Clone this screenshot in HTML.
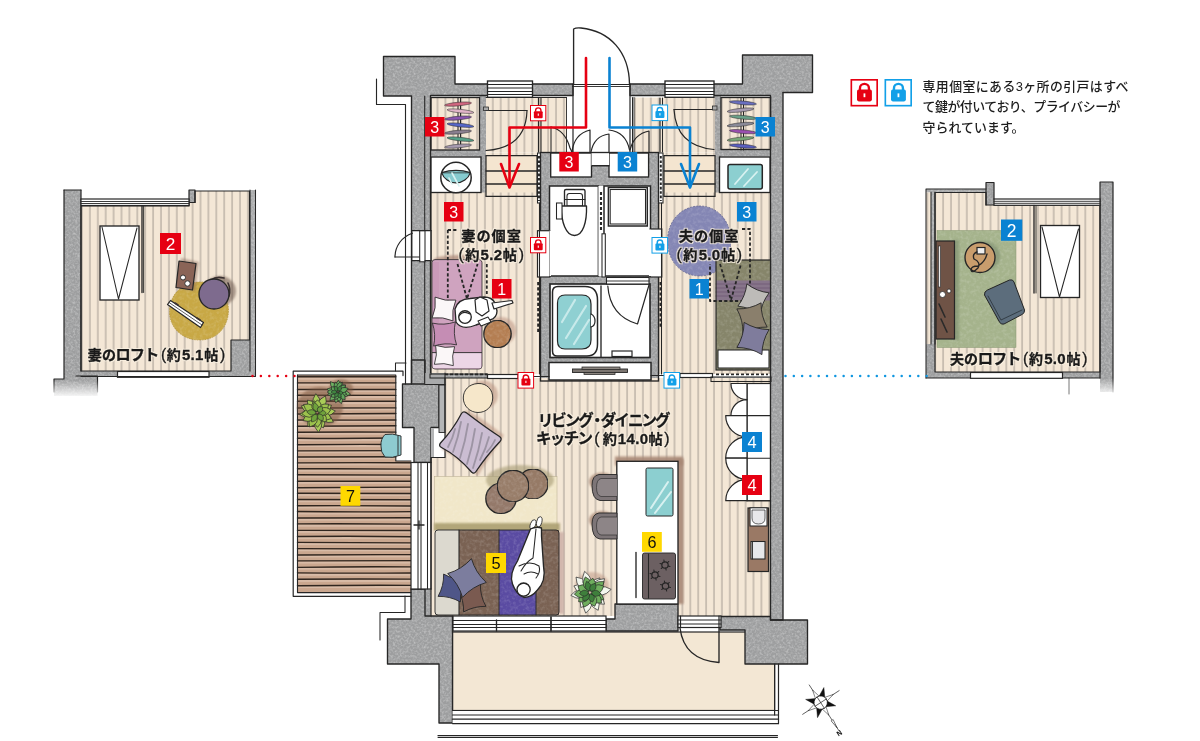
<!DOCTYPE html>
<html lang="ja">
<head>
<meta charset="utf-8">
<title>間取り図</title>
<style>
html,body{margin:0;padding:0;background:#fff;}
body{width:1200px;height:741px;overflow:hidden;font-family:"Liberation Sans","Noto Sans CJK JP",sans-serif;}
svg{display:block;opacity:0.999}
svg text{font-family:"Liberation Sans","Noto Sans CJK JP",sans-serif;}
</style>
</head>
<body>
<svg width="1200" height="741" viewBox="0 0 1200 741">
<defs>
<pattern id="flv" x="0" y="0" width="7.9" height="40" patternUnits="userSpaceOnUse">
<rect width="7.9" height="40" fill="#f4e7d6"/>
<line x1="3" y1="0" x2="3" y2="40" stroke="#766f69" stroke-width="0.9" opacity="0.72"/>
</pattern>
<filter id="mot" x="0" y="0" width="100%" height="100%" color-interpolation-filters="sRGB">
<feTurbulence type="fractalNoise" baseFrequency="0.45" numOctaves="2" seed="7" result="n"/>
<feColorMatrix in="n" type="matrix" values="0 0 0 0 1  0 0 0 0 1  0 0 0 0 1  0.7 0 0 0 -0.27" result="w"/>
<feComposite in="w" in2="SourceGraphic" operator="in" result="wi"/>
<feMerge><feMergeNode in="SourceGraphic"/><feMergeNode in="wi"/></feMerge>
</filter>
<filter id="mot2" x="0" y="0" width="100%" height="100%" color-interpolation-filters="sRGB">
<feTurbulence type="fractalNoise" baseFrequency="0.3" numOctaves="2" seed="5" result="n"/>
<feColorMatrix in="n" type="matrix" values="0 0 0 0 1  0 0 0 0 1  0 0 0 0 1  0.36 0 0 0 -0.15" result="w"/>
<feComposite in="w" in2="SourceGraphic" operator="in" result="wi"/>
<feMerge><feMergeNode in="SourceGraphic"/><feMergeNode in="wi"/></feMerge>
</filter>
<filter id="halo" x="-5%" y="-30%" width="110%" height="160%" color-interpolation-filters="sRGB">
<feMorphology in="SourceAlpha" operator="dilate" radius="1.1" result="d"/>
<feGaussianBlur in="d" stdDeviation="0.45" result="b"/>
<feFlood flood-color="#f8efe0" flood-opacity="0.85"/>
<feComposite in2="b" operator="in" result="h"/>
<feMerge><feMergeNode in="h"/><feMergeNode in="SourceGraphic"/></feMerge>
</filter>
<filter id="soft" x="-20%" y="-20%" width="140%" height="140%"><feGaussianBlur stdDeviation="1.2"/></filter>
</defs>
<rect width="1200" height="741" fill="#ffffff"/>
<rect x="452.5" y="632" width="322.1" height="78.5" fill="#f3e7d4"/>
<rect x="452.5" y="632" width="322.1" height="78.5" fill="none" stroke="#262626" stroke-width="1.2"/>
<g filter="url(#mot)">
<polygon points="383.5,56.5 455,56.5 455,84 573,84 573,95.5 430.5,95.5 430.5,384 411.5,384 411.5,96 383.5,96" fill="#9d9e9f"/>
<polygon points="742.5,55 812.5,55 812.5,92.5 783,92.5 783,620 770.5,620 770.5,95.5 630,95.5 630,84 742.5,84" fill="#9d9e9f"/>
<rect x="430" y="149.5" width="56" height="7" fill="#9d9e9f"/>
<rect x="479.5" y="95" width="6.5" height="105" fill="#9d9e9f"/>
<rect x="715" y="149.5" width="56" height="7" fill="#9d9e9f"/>
<rect x="715" y="95" width="6" height="103" fill="#9d9e9f"/>
<rect x="540.5" y="152.5" width="118" height="228.5" fill="#9d9e9f"/>
<polygon points="411.5,360 425,360 425,384 439,384 439,427.5 431,427.5 431,462.5 414,462.5 414,427.5 402.5,427.5 402.5,384 411.5,384" fill="#9d9e9f"/>
<polygon points="411,589 425,589 425,616 452.5,616 452.5,723 439,723 439,664 387.5,664 387.5,619 411,619" fill="#9d9e9f"/>
<rect x="424.5" y="589" width="6.5" height="27.5" fill="#9d9e9f"/>
<polygon points="720,616.5 783,616.5 783,620 807.5,620 807.5,664 745,664 745,630 720,630" fill="#9d9e9f"/>
<rect x="430" y="374" width="57.5" height="4" fill="#9d9e9f"/>
<rect x="711" y="377" width="60" height="4.5" fill="#9d9e9f"/>
</g>
<rect x="431" y="97.5" width="48.5" height="52.5" fill="url(#flv)"/>
<rect x="486" y="97.5" width="80.5" height="55" fill="url(#flv)"/>
<rect x="486" y="152.5" width="51.5" height="47.5" fill="url(#flv)"/>
<rect x="486" y="156" width="51" height="40" fill="#f4e5d0"/>
<rect x="431" y="192.5" width="106.5" height="181.5" fill="url(#flv)"/>
<rect x="572.5" y="84.5" width="57.5" height="68.5" fill="#ffffff"/>
<rect x="634" y="97.5" width="81" height="55" fill="url(#flv)"/>
<rect x="661" y="152.5" width="54" height="47.5" fill="url(#flv)"/>
<rect x="664" y="156" width="51" height="40" fill="#f4e5d0"/>
<rect x="721" y="97.5" width="49.5" height="52" fill="url(#flv)"/>
<rect x="661" y="192.5" width="110" height="181.5" fill="url(#flv)"/>
<polygon points="445,378 770.5,378 770.5,616 431,616 431,457.5 445,457.5" fill="url(#flv)"/>
<rect x="537.5" y="153" width="3.5" height="50" fill="#fff"/>
<rect x="658" y="153" width="5" height="50" fill="#fff"/>
<rect x="537.5" y="203" width="3.5" height="171" fill="url(#flv)"/>
<rect x="658" y="203" width="6" height="171" fill="url(#flv)"/>
<polygon points="297.5,375 395.8,375 395.8,461 411,461 411,592.5 297.5,592.5" fill="#caa78f"/>
<rect x="297.5" y="377.7" width="98.3" height="1.9" fill="#d8bba7"/>
<path d="M297.5,376.82 Q345.9,376.90 395.8,376.72" fill="none" stroke="#30261f" stroke-width="1.4" stroke-linecap="round" stroke-linejoin="round" stroke-linecap="butt"/>
<rect x="297.5" y="383.83" width="98.3" height="1.9" fill="#d8bba7"/>
<path d="M297.5,382.89 Q345.9,383.03 395.8,382.83" fill="none" stroke="#30261f" stroke-width="1.4" stroke-linecap="round" stroke-linejoin="round" stroke-linecap="butt"/>
<rect x="297.5" y="389.96" width="98.3" height="1.9" fill="#d8bba7"/>
<path d="M297.5,389.55 Q345.9,389.53 395.8,389.47" fill="none" stroke="#30261f" stroke-width="1.4" stroke-linecap="round" stroke-linejoin="round" stroke-linecap="butt"/>
<rect x="297.5" y="396.09" width="98.3" height="1.9" fill="#d8bba7"/>
<path d="M297.5,395.20 Q345.9,395.17 395.8,395.42" fill="none" stroke="#30261f" stroke-width="1.4" stroke-linecap="round" stroke-linejoin="round" stroke-linecap="butt"/>
<rect x="297.5" y="402.22" width="98.3" height="1.9" fill="#d8bba7"/>
<path d="M297.5,401.29 Q345.9,401.23 395.8,401.24" fill="none" stroke="#30261f" stroke-width="1.4" stroke-linecap="round" stroke-linejoin="round" stroke-linecap="butt"/>
<rect x="297.5" y="408.35" width="98.3" height="1.9" fill="#d8bba7"/>
<path d="M297.5,407.95 Q345.9,407.96 395.8,407.88" fill="none" stroke="#30261f" stroke-width="1.4" stroke-linecap="round" stroke-linejoin="round" stroke-linecap="butt"/>
<rect x="297.5" y="414.48" width="98.3" height="1.9" fill="#d8bba7"/>
<path d="M297.5,413.99 Q345.9,413.59 395.8,413.57" fill="none" stroke="#30261f" stroke-width="1.4" stroke-linecap="round" stroke-linejoin="round" stroke-linecap="butt"/>
<rect x="297.5" y="420.61" width="98.3" height="1.9" fill="#d8bba7"/>
<path d="M297.5,420.00 Q345.9,420.26 395.8,420.07" fill="none" stroke="#30261f" stroke-width="1.4" stroke-linecap="round" stroke-linejoin="round" stroke-linecap="butt"/>
<rect x="297.5" y="426.74" width="98.3" height="1.9" fill="#d8bba7"/>
<path d="M297.5,426.31 Q345.9,426.15 395.8,425.75" fill="none" stroke="#30261f" stroke-width="1.4" stroke-linecap="round" stroke-linejoin="round" stroke-linecap="butt"/>
<rect x="297.5" y="432.87" width="98.3" height="1.9" fill="#d8bba7"/>
<path d="M297.5,432.29 Q345.9,431.85 395.8,432.17" fill="none" stroke="#30261f" stroke-width="1.4" stroke-linecap="round" stroke-linejoin="round" stroke-linecap="butt"/>
<rect x="297.5" y="439" width="98.3" height="1.9" fill="#d8bba7"/>
<path d="M297.5,438.28 Q345.9,438.73 395.8,438.01" fill="none" stroke="#30261f" stroke-width="1.4" stroke-linecap="round" stroke-linejoin="round" stroke-linecap="butt"/>
<rect x="297.5" y="445.13" width="98.3" height="1.9" fill="#d8bba7"/>
<path d="M297.5,444.69 Q345.9,444.23 395.8,444.46" fill="none" stroke="#30261f" stroke-width="1.4" stroke-linecap="round" stroke-linejoin="round" stroke-linecap="butt"/>
<rect x="297.5" y="451.26" width="98.3" height="1.9" fill="#d8bba7"/>
<path d="M297.5,450.85 Q345.9,450.94 395.8,450.61" fill="none" stroke="#30261f" stroke-width="1.4" stroke-linecap="round" stroke-linejoin="round" stroke-linecap="butt"/>
<rect x="297.5" y="457.39" width="98.3" height="1.9" fill="#d8bba7"/>
<path d="M297.5,456.93 Q345.9,456.60 395.8,456.70" fill="none" stroke="#30261f" stroke-width="1.4" stroke-linecap="round" stroke-linejoin="round" stroke-linecap="butt"/>
<rect x="297.5" y="463.52" width="113.5" height="1.9" fill="#d8bba7"/>
<path d="M297.5,462.89 Q353.5,462.48 411,462.77" fill="none" stroke="#30261f" stroke-width="1.4" stroke-linecap="round" stroke-linejoin="round" stroke-linecap="butt"/>
<rect x="297.5" y="469.65" width="113.5" height="1.9" fill="#d8bba7"/>
<path d="M297.5,468.81 Q353.5,468.49 411,469.17" fill="none" stroke="#30261f" stroke-width="1.4" stroke-linecap="round" stroke-linejoin="round" stroke-linecap="butt"/>
<rect x="297.5" y="475.78" width="113.5" height="1.9" fill="#d8bba7"/>
<path d="M297.5,474.76 Q353.5,474.86 411,475.17" fill="none" stroke="#30261f" stroke-width="1.4" stroke-linecap="round" stroke-linejoin="round" stroke-linecap="butt"/>
<rect x="297.5" y="481.91" width="113.5" height="1.9" fill="#d8bba7"/>
<path d="M297.5,481.23 Q353.5,481.05 411,481.19" fill="none" stroke="#30261f" stroke-width="1.4" stroke-linecap="round" stroke-linejoin="round" stroke-linecap="butt"/>
<rect x="297.5" y="488.04" width="113.5" height="1.9" fill="#d8bba7"/>
<path d="M297.5,487.69 Q353.5,487.25 411,487.13" fill="none" stroke="#30261f" stroke-width="1.4" stroke-linecap="round" stroke-linejoin="round" stroke-linecap="butt"/>
<rect x="297.5" y="494.17" width="113.5" height="1.9" fill="#d8bba7"/>
<path d="M297.5,493.26 Q353.5,493.25 411,493.56" fill="none" stroke="#30261f" stroke-width="1.4" stroke-linecap="round" stroke-linejoin="round" stroke-linecap="butt"/>
<rect x="297.5" y="500.3" width="113.5" height="1.9" fill="#d8bba7"/>
<path d="M297.5,499.50 Q353.5,499.42 411,499.77" fill="none" stroke="#30261f" stroke-width="1.4" stroke-linecap="round" stroke-linejoin="round" stroke-linecap="butt"/>
<rect x="297.5" y="506.43" width="113.5" height="1.9" fill="#d8bba7"/>
<path d="M297.5,505.77 Q353.5,505.33 411,506.01" fill="none" stroke="#30261f" stroke-width="1.4" stroke-linecap="round" stroke-linejoin="round" stroke-linecap="butt"/>
<rect x="297.5" y="512.56" width="113.5" height="1.9" fill="#d8bba7"/>
<path d="M297.5,511.55 Q353.5,512.13 411,511.67" fill="none" stroke="#30261f" stroke-width="1.4" stroke-linecap="round" stroke-linejoin="round" stroke-linecap="butt"/>
<rect x="297.5" y="518.69" width="113.5" height="1.9" fill="#d8bba7"/>
<path d="M297.5,518.07 Q353.5,517.82 411,517.81" fill="none" stroke="#30261f" stroke-width="1.4" stroke-linecap="round" stroke-linejoin="round" stroke-linecap="butt"/>
<rect x="297.5" y="524.82" width="113.5" height="1.9" fill="#d8bba7"/>
<path d="M297.5,523.89 Q353.5,523.66 411,524.09" fill="none" stroke="#30261f" stroke-width="1.4" stroke-linecap="round" stroke-linejoin="round" stroke-linecap="butt"/>
<rect x="297.5" y="530.95" width="113.5" height="1.9" fill="#d8bba7"/>
<path d="M297.5,530.39 Q353.5,530.70 411,530.53" fill="none" stroke="#30261f" stroke-width="1.4" stroke-linecap="round" stroke-linejoin="round" stroke-linecap="butt"/>
<rect x="297.5" y="537.08" width="113.5" height="1.9" fill="#d8bba7"/>
<path d="M297.5,536.54 Q353.5,535.90 411,536.70" fill="none" stroke="#30261f" stroke-width="1.4" stroke-linecap="round" stroke-linejoin="round" stroke-linecap="butt"/>
<rect x="297.5" y="543.21" width="113.5" height="1.9" fill="#d8bba7"/>
<path d="M297.5,542.36 Q353.5,542.79 411,542.84" fill="none" stroke="#30261f" stroke-width="1.4" stroke-linecap="round" stroke-linejoin="round" stroke-linecap="butt"/>
<rect x="297.5" y="549.34" width="113.5" height="1.9" fill="#d8bba7"/>
<path d="M297.5,548.58 Q353.5,548.76 411,548.95" fill="none" stroke="#30261f" stroke-width="1.4" stroke-linecap="round" stroke-linejoin="round" stroke-linecap="butt"/>
<rect x="297.5" y="555.47" width="113.5" height="1.9" fill="#d8bba7"/>
<path d="M297.5,554.99 Q353.5,554.46 411,554.63" fill="none" stroke="#30261f" stroke-width="1.4" stroke-linecap="round" stroke-linejoin="round" stroke-linecap="butt"/>
<rect x="297.5" y="561.6" width="113.5" height="1.9" fill="#d8bba7"/>
<path d="M297.5,560.86 Q353.5,560.78 411,560.65" fill="none" stroke="#30261f" stroke-width="1.4" stroke-linecap="round" stroke-linejoin="round" stroke-linecap="butt"/>
<rect x="297.5" y="567.73" width="113.5" height="1.9" fill="#d8bba7"/>
<path d="M297.5,567.35 Q353.5,566.54 411,566.91" fill="none" stroke="#30261f" stroke-width="1.4" stroke-linecap="round" stroke-linejoin="round" stroke-linecap="butt"/>
<rect x="297.5" y="573.86" width="113.5" height="1.9" fill="#d8bba7"/>
<path d="M297.5,572.84 Q353.5,573.44 411,572.93" fill="none" stroke="#30261f" stroke-width="1.4" stroke-linecap="round" stroke-linejoin="round" stroke-linecap="butt"/>
<rect x="297.5" y="579.99" width="113.5" height="1.9" fill="#d8bba7"/>
<path d="M297.5,579.19 Q353.5,578.89 411,579.14" fill="none" stroke="#30261f" stroke-width="1.4" stroke-linecap="round" stroke-linejoin="round" stroke-linecap="butt"/>
<rect x="297.5" y="586.12" width="113.5" height="1.9" fill="#d8bba7"/>
<path d="M297.5,585.76 Q353.5,585.13 411,585.37" fill="none" stroke="#30261f" stroke-width="1.4" stroke-linecap="round" stroke-linejoin="round" stroke-linecap="butt"/>
<g filter="url(#mot)">
<polygon points="615,604 678,604 678,631 606,631 606,619 615,619" fill="#9d9e9f"/>
</g>
<polygon points="383.5,56.5 455,56.5 455,84 573,84 573,95.5 430.5,95.5 430.5,384 411.5,384 411.5,96 383.5,96" fill="none" stroke="#262626" stroke-width="1.35" stroke-linejoin="round"/>
<polygon points="742.5,55 812.5,55 812.5,92.5 783,92.5 783,620 770.5,620 770.5,95.5 630,95.5 630,84 742.5,84" fill="none" stroke="#262626" stroke-width="1.35" stroke-linejoin="round"/>
<polygon points="411.5,360 425,360 425,384 439,384 439,427.5 431,427.5 431,462.5 414,462.5 414,427.5 402.5,427.5 402.5,384 411.5,384" fill="none" stroke="#262626" stroke-width="1.35" stroke-linejoin="round"/>
<polygon points="411,589 425,589 425,616 452.5,616 452.5,723 439,723 439,664 387.5,664 387.5,619 411,619" fill="none" stroke="#262626" stroke-width="1.35" stroke-linejoin="round"/>
<polygon points="615,604 678,604 678,631 606,631 606,619 615,619" fill="none" stroke="#262626" stroke-width="1.35" stroke-linejoin="round"/>
<polygon points="720,616.5 770.5,616.5 770.5,620 807.5,620 807.5,664 745,664 745,630 720,630" fill="none" stroke="#262626" stroke-width="1.35" stroke-linejoin="round"/>
<rect x="439" y="385" width="6" height="47.5" fill="#b4b5b6" stroke="#262626" stroke-width="0.9"/>
<rect x="424.5" y="373" width="20.5" height="12" fill="#a9aaab"/>
<line x1="445" y1="373" x2="445" y2="385" stroke="#262626" stroke-width="1.05" stroke-linecap="round" />
<line x1="424.7" y1="384.5" x2="445" y2="384.5" stroke="#262626" stroke-width="1.05" stroke-linecap="round" />
<rect x="431" y="428" width="3" height="29.5" fill="#b4b5b6"/>
<path d="M376.5,79 V104.5 H405.5 V384" fill="none" stroke="#262626" stroke-width="1.125" stroke-linecap="round" stroke-linejoin="round" />
<line x1="424.7" y1="96" x2="424.7" y2="230" stroke="#262626" stroke-width="1.05" stroke-linecap="round" />
<line x1="424.7" y1="257.5" x2="424.7" y2="384" stroke="#262626" stroke-width="1.05" stroke-linecap="round" />
<path d="M405,596 V612.5 H380 V640" fill="none" stroke="#262626" stroke-width="1.05" stroke-linecap="round" stroke-linejoin="round" />
<path d="M812.5,92.5 H783" fill="none" stroke="#262626" stroke-width="1.05" stroke-linecap="round" stroke-linejoin="round" />
<rect x="550.7" y="153" width="40.8" height="24" fill="#fff" stroke="#262626" stroke-width="1.35"/>
<rect x="609" y="153" width="39.6" height="24" fill="#fff" stroke="#262626" stroke-width="1.35"/>
<rect x="591.5" y="153" width="17.5" height="12.7" fill="#fff"/>
<line x1="592" y1="165.7" x2="609" y2="165.7" stroke="#262626" stroke-width="1.35" stroke-linecap="round" />
<rect x="549.5" y="186" width="48.9" height="90" fill="#fff" stroke="#262626" stroke-width="1.5"/>
<rect x="598.4" y="186" width="5.6" height="90" fill="#fff"/>
<rect x="604" y="186" width="46.5" height="90" fill="#fff" stroke="#262626" stroke-width="1.5"/>
<rect x="550" y="284" width="100" height="73.5" fill="#fff" stroke="#262626" stroke-width="1.65"/>
<rect x="549" y="362.5" width="102" height="17.5" fill="#fff" stroke="#262626" stroke-width="1.5"/>
<rect x="540.5" y="152.5" width="118" height="228.5" fill="none" stroke="#262626" stroke-width="1.35"/>
<rect x="537.5" y="230.7" width="12.3" height="46.3" fill="#fff" stroke="#262626" stroke-width="1.2"/>
<rect x="650.2" y="229" width="11.6" height="48" fill="#fff" stroke="#262626" stroke-width="1.2"/>
<rect x="549.5" y="230.7" width="1.5" height="45.3" fill="#fff"/>
<rect x="649" y="229.5" width="2" height="46.5" fill="#fff"/>
<rect x="606.5" y="277.5" width="42.5" height="6.5" fill="#fff" stroke="#262626" stroke-width="1.05"/>
<line x1="606.5" y1="281" x2="649" y2="281" stroke="#262626" stroke-width="0.9" stroke-linecap="round" />
<rect x="602" y="233.8" width="3.3" height="43.2" fill="#fff" stroke="#262626" stroke-width="1.05"/>
<line x1="601" y1="192" x2="601" y2="230" stroke="#262626" stroke-width="2.1" stroke-linecap="butt" stroke-dasharray="3 2"/>
<rect x="537.5" y="153" width="3" height="50" fill="none" stroke="#262626" stroke-width="1.05"/>
<rect x="658.5" y="153" width="4.5" height="50" fill="none" stroke="#262626" stroke-width="1.05"/>
<line x1="539" y1="156" x2="539" y2="201" stroke="#262626" stroke-width="1.95" stroke-linecap="butt" stroke-dasharray="2.6 1.8"/>
<line x1="660.8" y1="156" x2="660.8" y2="201" stroke="#262626" stroke-width="1.95" stroke-linecap="butt" stroke-dasharray="2.6 1.8"/>
<line x1="539.5" y1="203" x2="539.5" y2="374" stroke="#262626" stroke-width="1.05" stroke-linecap="round" />
<line x1="661.5" y1="203" x2="661.5" y2="374" stroke="#262626" stroke-width="1.05" stroke-linecap="round" />
<line x1="538.3" y1="282" x2="538.3" y2="332" stroke="#262626" stroke-width="2.25" stroke-linecap="butt" stroke-dasharray="3.2 2"/>
<line x1="660.6" y1="282" x2="660.6" y2="328" stroke="#262626" stroke-width="2.25" stroke-linecap="butt" stroke-dasharray="3.2 2"/>
<rect x="608.4" y="187.5" width="38.9" height="38.5" fill="#fff" stroke="#262626" stroke-width="1.5"/>
<rect x="610.2" y="189.5" width="35.3" height="34.5" fill="none" stroke="#262626" stroke-width="1.05"/>
<path d="M564.5,191 Q564.5,189.5 566,189.5 H583.5 Q585,189.5 585,191 V208 H564.5 Z" fill="#fff" stroke="#262626" stroke-width="1.35" stroke-linecap="round" stroke-linejoin="round" />
<path d="M567,196 Q567,193.5 569.5,193.5 H580 Q582.5,193.5 582.5,196 V206 H567 Z" fill="#fff" stroke="#262626" stroke-width="1.05" stroke-linecap="round" stroke-linejoin="round" />
<path d="M561.5,206 C561,222 566,235.5 574.5,235.5 C583,235.5 587,222 586.5,206 Z" fill="#fff" stroke="#262626" stroke-width="1.35" stroke-linecap="round" stroke-linejoin="round" />
<rect x="556.5" y="203" width="5.5" height="16" fill="#fff" stroke="#262626" stroke-width="1.05"/>
<line x1="565" y1="199.5" x2="585" y2="199.5" stroke="#262626" stroke-width="1.05" stroke-linecap="round" />
<path d="M552.5,292 Q552.5,286.5 558,286.5 H585 Q597.5,286.5 597.5,300 V344 Q597.5,356 587,356 H557 Q552.5,356 552.5,351 Z" fill="#fff" stroke="#262626" stroke-width="1.5" stroke-linecap="round" stroke-linejoin="round" />
<path d="M557.5,303 Q557.5,295 565,295 H582 Q591,295 591,304 V340 Q591,349 582,349 H565 Q557.5,349 557.5,341 Z" fill="#8fd0d2" stroke="#262626" stroke-width="1.2" stroke-linecap="round" stroke-linejoin="round" />
<path d="M562,322 L575,300 M566,338 L586,306 M574,344 L589,320" fill="none" stroke="#d6f0f0" stroke-width="2.2" stroke-linecap="round" stroke-linejoin="round" opacity="0.8" stroke-linecap="round"/>
<path d="M591,314 Q595,316 595,321 Q595,326 591,327" fill="#fff" stroke="#262626" stroke-width="1.2" stroke-linecap="round" stroke-linejoin="round" />
<line x1="601" y1="286" x2="601" y2="357" stroke="#262626" stroke-width="1.35" stroke-linecap="round" />
<path d="M607.8,286 Q610,316 637.5,324 L649,285" fill="none" stroke="#262626" stroke-width="1.2" stroke-linecap="round" stroke-linejoin="round" />
<rect x="612" y="351" width="20" height="5.5" fill="#fff" stroke="#262626" stroke-width="1.2"/>
<rect x="572.5" y="369" width="55" height="3.5" fill="#7b7570" stroke="#262626" stroke-width="0.9"/>
<rect x="582" y="367" width="38" height="2.5" fill="#8c8680" stroke="#262626" stroke-width="0.75"/>
<rect x="584" y="372.5" width="31" height="2" fill="#8c8680" stroke="#262626" stroke-width="0.75"/>
<rect x="487.5" y="81" width="45" height="16.3" fill="#fff" stroke="#262626" stroke-width="1.35"/>
<line x1="487.5" y1="84.5" x2="532.5" y2="84.5" stroke="#262626" stroke-width="1.05" stroke-linecap="round" />
<line x1="487.5" y1="88" x2="532.5" y2="88" stroke="#262626" stroke-width="1.05" stroke-linecap="round" />
<line x1="487.5" y1="91.5" x2="532.5" y2="91.5" stroke="#262626" stroke-width="1.05" stroke-linecap="round" />
<line x1="487.5" y1="94.5" x2="532.5" y2="94.5" stroke="#262626" stroke-width="1.05" stroke-linecap="round" />
<rect x="665" y="81" width="49" height="16.3" fill="#fff" stroke="#262626" stroke-width="1.35"/>
<line x1="665" y1="84.5" x2="714" y2="84.5" stroke="#262626" stroke-width="1.05" stroke-linecap="round" />
<line x1="665" y1="88" x2="714" y2="88" stroke="#262626" stroke-width="1.05" stroke-linecap="round" />
<line x1="665" y1="91.5" x2="714" y2="91.5" stroke="#262626" stroke-width="1.05" stroke-linecap="round" />
<line x1="665" y1="94.5" x2="714" y2="94.5" stroke="#262626" stroke-width="1.05" stroke-linecap="round" />
<line x1="572.5" y1="84.5" x2="630" y2="84.5" stroke="#262626" stroke-width="1.2" stroke-linecap="round" />
<line x1="572.5" y1="86.5" x2="630" y2="86.5" stroke="#262626" stroke-width="0.9" stroke-linecap="round" />
<path d="M573.6,84 V29 Q576,27.5 581,28 C610,31 629,52 629.5,84" fill="none" stroke="#262626" stroke-width="1.35" stroke-linecap="round" stroke-linejoin="round" />
<line x1="573" y1="84" x2="573" y2="152.5" stroke="#262626" stroke-width="1.2" stroke-linecap="round" />
<line x1="630" y1="84" x2="630" y2="152.5" stroke="#262626" stroke-width="1.2" stroke-linecap="round" />
<path d="M551,127 Q565,130 570,148 L572,152" fill="none" stroke="#262626" stroke-width="1.2" stroke-linecap="round" stroke-linejoin="round" />
<path d="M572,152 Q574,134 590,130 L590,152" fill="none" stroke="#262626" stroke-width="1.2" stroke-linecap="round" stroke-linejoin="round" />
<path d="M591,152 Q594,136 609,134 L609,152" fill="none" stroke="#262626" stroke-width="1.2" stroke-linecap="round" stroke-linejoin="round" />
<path d="M609,130 Q626,132 629.5,150" fill="none" stroke="#262626" stroke-width="1.2" stroke-linecap="round" stroke-linejoin="round" />
<path d="M630,150 Q634,134 649,131 L649,152" fill="none" stroke="#262626" stroke-width="1.2" stroke-linecap="round" stroke-linejoin="round" />
<line x1="551" y1="127" x2="551" y2="152" stroke="#262626" stroke-width="1.05" stroke-linecap="round" />
<rect x="431" y="97.5" width="48.5" height="52.5" fill="none" stroke="#262626" stroke-width="1.35"/>
<rect x="431" y="157" width="50" height="35.5" fill="#fff" stroke="#262626" stroke-width="1.35"/>
<circle cx="456" cy="177.5" r="15.2" fill="#fff" stroke="#262626" stroke-width="1.5"/>
<path d="M441.6,172.6 A15.2,15.2 0 0 0 470.4,172.6 Z" fill="#86cbcf" stroke="#262626" stroke-width="1.2" stroke-linecap="round" stroke-linejoin="round" />
<path d="M441.6,172.6 Q456,168 470.4,172.6" fill="#86cbcf" stroke="#262626" stroke-width="1.2" stroke-linecap="round" stroke-linejoin="round" />
<path d="M452,173 L459,186 M449,178 L452,184" fill="none" stroke="#d8f1f0" stroke-width="1.6" stroke-linecap="round" stroke-linejoin="round" stroke-linecap="round"/>
<line x1="486" y1="155.6" x2="537" y2="155.6" stroke="#262626" stroke-width="1.35" stroke-linecap="round" />
<line x1="486" y1="171" x2="537" y2="171" stroke="#262626" stroke-width="1.35" stroke-linecap="round" />
<line x1="486" y1="184" x2="537" y2="184" stroke="#262626" stroke-width="1.35" stroke-linecap="round" />
<line x1="486" y1="196.3" x2="537" y2="196.3" stroke="#262626" stroke-width="1.35" stroke-linecap="round" />
<line x1="486" y1="156" x2="486" y2="196" stroke="#262626" stroke-width="1.2" stroke-linecap="round" />
<line x1="537" y1="156" x2="537" y2="196" stroke="#262626" stroke-width="1.2" stroke-linecap="round" />
<line x1="664" y1="155.6" x2="715" y2="155.6" stroke="#262626" stroke-width="1.35" stroke-linecap="round" />
<line x1="664" y1="171" x2="715" y2="171" stroke="#262626" stroke-width="1.35" stroke-linecap="round" />
<line x1="664" y1="184" x2="715" y2="184" stroke="#262626" stroke-width="1.35" stroke-linecap="round" />
<line x1="664" y1="196.3" x2="715" y2="196.3" stroke="#262626" stroke-width="1.35" stroke-linecap="round" />
<line x1="664" y1="156" x2="664" y2="196" stroke="#262626" stroke-width="1.2" stroke-linecap="round" />
<line x1="715" y1="156" x2="715" y2="196" stroke="#262626" stroke-width="1.2" stroke-linecap="round" />
<line x1="486" y1="110.5" x2="527" y2="110.5" stroke="#262626" stroke-width="1.2" stroke-linecap="round" />
<path d="M527,110.5 Q526,148 486,150.5" fill="none" stroke="#262626" stroke-width="1.2" stroke-linecap="round" stroke-linejoin="round" />
<rect x="483.5" y="107" width="5" height="3.5" fill="#aaa" stroke="#262626" stroke-width="0.75"/>
<line x1="538.5" y1="98" x2="538.5" y2="152" stroke="#262626" stroke-width="1.2" stroke-linecap="round" />
<line x1="541" y1="98" x2="541" y2="152" stroke="#262626" stroke-width="1.05" stroke-linecap="round" />
<line x1="458" y1="98" x2="458" y2="150" stroke="#262626" stroke-width="1.05" stroke-linecap="round" />
<line x1="460.5" y1="98" x2="460.5" y2="150" stroke="#262626" stroke-width="1.05" stroke-linecap="round" />
<ellipse cx="458" cy="104" rx="13.5" ry="1.8" fill="#d0667f" stroke="#262626" stroke-width="0.5" transform="rotate(-5 459 104)"/>
<ellipse cx="460.5" cy="111" rx="13.5" ry="1.8" fill="#e0b3c8" stroke="#262626" stroke-width="0.5" transform="rotate(6 459 111)"/>
<ellipse cx="458" cy="118" rx="13.5" ry="1.8" fill="#8a55b0" stroke="#262626" stroke-width="0.5" transform="rotate(-5 459 118)"/>
<ellipse cx="460.5" cy="125" rx="13.5" ry="1.8" fill="#5566c8" stroke="#262626" stroke-width="0.5" transform="rotate(6 459 125)"/>
<ellipse cx="458" cy="132" rx="13.5" ry="1.8" fill="#8a7f90" stroke="#262626" stroke-width="0.5" transform="rotate(-5 459 132)"/>
<ellipse cx="460.5" cy="139" rx="13.5" ry="1.8" fill="#55a088" stroke="#262626" stroke-width="0.5" transform="rotate(6 459 139)"/>
<ellipse cx="458" cy="146" rx="13.5" ry="1.8" fill="#a79bb0" stroke="#262626" stroke-width="0.5" transform="rotate(-5 459 146)"/>
<line x1="741" y1="98" x2="741" y2="150" stroke="#262626" stroke-width="1.05" stroke-linecap="round" />
<line x1="743.5" y1="98" x2="743.5" y2="150" stroke="#262626" stroke-width="1.05" stroke-linecap="round" />
<ellipse cx="743" cy="102.8" rx="13.5" ry="1.8" fill="#6a6fc0" stroke="#262626" stroke-width="0.5" transform="rotate(5 742 102.8)"/>
<ellipse cx="740.5" cy="110" rx="13.5" ry="1.8" fill="#a79bb0" stroke="#262626" stroke-width="0.5" transform="rotate(-6 742 110)"/>
<ellipse cx="743" cy="117.2" rx="13.5" ry="1.8" fill="#6aa088" stroke="#262626" stroke-width="0.5" transform="rotate(5 742 117.2)"/>
<ellipse cx="740.5" cy="124.4" rx="13.5" ry="1.8" fill="#8a8a98" stroke="#262626" stroke-width="0.5" transform="rotate(-6 742 124.4)"/>
<ellipse cx="743" cy="131.6" rx="13.5" ry="1.8" fill="#9a50b0" stroke="#262626" stroke-width="0.5" transform="rotate(5 742 131.6)"/>
<ellipse cx="740.5" cy="138.8" rx="13.5" ry="1.8" fill="#7aa878" stroke="#262626" stroke-width="0.5" transform="rotate(-6 742 138.8)"/>
<ellipse cx="743" cy="146" rx="13.5" ry="1.8" fill="#5a5fc0" stroke="#262626" stroke-width="0.5" transform="rotate(5 742 146)"/>
<rect x="721" y="97.5" width="49.5" height="52" fill="none" stroke="#262626" stroke-width="1.35"/>
<rect x="719.5" y="157" width="50.5" height="35.5" fill="#fff" stroke="#262626" stroke-width="1.35"/>
<rect x="728" y="164.5" width="34.3" height="24.5" rx="2" fill="#8ccfd0" stroke="#262626" stroke-width="1.5"/>
<path d="M735,184 L748,169 M744,186 L757,172" fill="none" stroke="#d8f1f0" stroke-width="1.8" stroke-linecap="round" stroke-linejoin="round" stroke-linecap="round"/>
<line x1="674" y1="109.5" x2="714" y2="109.5" stroke="#262626" stroke-width="1.2" stroke-linecap="round" />
<path d="M674,109.5 Q676,146 714,149.5" fill="none" stroke="#262626" stroke-width="1.2" stroke-linecap="round" stroke-linejoin="round" />
<rect x="712.5" y="106" width="4.5" height="4" fill="#aaa" stroke="#262626" stroke-width="0.75"/>
<line x1="660" y1="98" x2="660" y2="152" stroke="#262626" stroke-width="1.2" stroke-linecap="round" />
<line x1="662.5" y1="98" x2="662.5" y2="152" stroke="#262626" stroke-width="1.05" stroke-linecap="round" />
<line x1="632.5" y1="97.5" x2="632.5" y2="152" stroke="#262626" stroke-width="1.05" stroke-linecap="round" />
<rect x="412" y="230.6" width="19" height="30" fill="#fff"/>
<path d="M395,257 A25,25 0 0 1 412.4,233.2" fill="none" stroke="#262626" stroke-width="1.2" stroke-linecap="round" stroke-linejoin="round" />
<line x1="395" y1="257" x2="419.7" y2="257" stroke="#262626" stroke-width="1.2" stroke-linecap="round" />
<rect x="419.7" y="230.6" width="5.3" height="31.2" fill="#fff" stroke="#262626" stroke-width="1.05"/>
<line x1="412" y1="230.6" x2="431" y2="230.6" stroke="#262626" stroke-width="1.2" stroke-linecap="round" />
<line x1="412" y1="260.6" x2="419.7" y2="260.6" stroke="#262626" stroke-width="1.2" stroke-linecap="round" />
<line x1="425" y1="260.6" x2="431" y2="260.6" stroke="#262626" stroke-width="1.2" stroke-linecap="round" />
<line x1="412" y1="230.6" x2="412" y2="260.6" stroke="#262626" stroke-width="0.9" stroke-linecap="round" />
<line x1="431" y1="230.6" x2="431" y2="260.6" stroke="#262626" stroke-width="1.05" stroke-linecap="round" />
<line x1="445" y1="374.3" x2="487" y2="374.3" stroke="#262626" stroke-width="1.65" stroke-linecap="butt" stroke-dasharray="3 2"/>
<rect x="487.5" y="374.5" width="30.5" height="4" fill="#fff" stroke="#262626" stroke-width="1.2"/>
<line x1="534" y1="376.5" x2="549" y2="376.5" stroke="#262626" stroke-width="1.2" stroke-linecap="round" />
<rect x="680" y="373.5" width="32.5" height="4" fill="#fff" stroke="#262626" stroke-width="1.2"/>
<line x1="651" y1="375.5" x2="664" y2="375.5" stroke="#262626" stroke-width="1.2" stroke-linecap="round" />
<line x1="716" y1="374.3" x2="768" y2="374.3" stroke="#262626" stroke-width="1.65" stroke-linecap="butt" stroke-dasharray="3 2"/>
<rect x="430" y="374" width="57.5" height="4" fill="none" stroke="#262626" stroke-width="1.05"/>
<rect x="711" y="377" width="60" height="4.5" fill="none" stroke="#262626" stroke-width="1.05"/>
<rect x="411" y="462.5" width="20" height="126.5" fill="#fff" stroke="#262626" stroke-width="1.2"/>
<line x1="418" y1="462.5" x2="418" y2="589" stroke="#262626" stroke-width="1.05" stroke-linecap="round" />
<line x1="421" y1="462.5" x2="421" y2="589" stroke="#262626" stroke-width="1.05" stroke-linecap="round" />
<line x1="427.5" y1="462.5" x2="427.5" y2="589" stroke="#262626" stroke-width="1.05" stroke-linecap="round" />
<line x1="414" y1="525" x2="424" y2="525" stroke="#262626" stroke-width="1.35" stroke-linecap="round" />
<line x1="419" y1="521" x2="419" y2="529" stroke="#262626" stroke-width="1.35" stroke-linecap="round" />
<rect x="453" y="616" width="153" height="15" fill="#fff" stroke="#262626" stroke-width="1.2"/>
<line x1="453" y1="620.5" x2="606" y2="620.5" stroke="#262626" stroke-width="1.05" stroke-linecap="round" />
<line x1="453" y1="624.5" x2="606" y2="624.5" stroke="#262626" stroke-width="1.05" stroke-linecap="round" />
<line x1="453" y1="627.5" x2="606" y2="627.5" stroke="#262626" stroke-width="1.05" stroke-linecap="round" />
<line x1="496.5" y1="620" x2="496.5" y2="631" stroke="#262626" stroke-width="1.35" stroke-linecap="round" />
<line x1="551" y1="617" x2="551" y2="631" stroke="#262626" stroke-width="1.65" stroke-linecap="round" />
<rect x="678" y="616" width="43" height="11.5" fill="#fff" stroke="#262626" stroke-width="1.2"/>
<line x1="678" y1="620" x2="721" y2="620" stroke="#262626" stroke-width="1.05" stroke-linecap="round" />
<line x1="678" y1="624" x2="721" y2="624" stroke="#262626" stroke-width="1.05" stroke-linecap="round" />
<line x1="680.5" y1="616" x2="680.5" y2="627.5" stroke="#262626" stroke-width="1.2" stroke-linecap="round" />
<line x1="719" y1="616" x2="719" y2="627.5" stroke="#262626" stroke-width="1.2" stroke-linecap="round" />
<path d="M680,628 Q684,660 719,662.5 V627.5" fill="none" stroke="#262626" stroke-width="1.35" stroke-linecap="round" stroke-linejoin="round" />
<rect x="452.5" y="710.5" width="326" height="13.1" fill="#fff"/>
<line x1="452.5" y1="710.5" x2="778.5" y2="710.5" stroke="#262626" stroke-width="1.2" stroke-linecap="round" />
<line x1="452.5" y1="715" x2="778.5" y2="715" stroke="#262626" stroke-width="1.2" stroke-linecap="round" />
<line x1="452.5" y1="719.2" x2="778.5" y2="719.2" stroke="#262626" stroke-width="1.2" stroke-linecap="round" />
<line x1="452.5" y1="723.6" x2="778.5" y2="723.6" stroke="#262626" stroke-width="1.2" stroke-linecap="round" />
<line x1="438" y1="735.7" x2="777.5" y2="735.7" stroke="#262626" stroke-width="1.2" stroke-linecap="round" />
<line x1="438" y1="737.5" x2="777.5" y2="737.5" stroke="#262626" stroke-width="1.05" stroke-linecap="round" />
<line x1="774.6" y1="664" x2="774.6" y2="715" stroke="#262626" stroke-width="1.2" stroke-linecap="round" />
<line x1="778.5" y1="664" x2="778.5" y2="723.6" stroke="#262626" stroke-width="1.2" stroke-linecap="round" />
<path d="M293.2,371.2 H403 V375.6 M293.2,371.2 V596.3 H411" fill="none" stroke="#262626" stroke-width="1.2" stroke-linecap="round" stroke-linejoin="round" />
<path d="M297.5,375 V592.6 H411" fill="none" stroke="#262626" stroke-width="1.125" stroke-linecap="round" stroke-linejoin="round" />
<path d="M297.5,375 H395.8 V461 H411" fill="none" stroke="#262626" stroke-width="1.125" stroke-linecap="round" stroke-linejoin="round" />
<path d="M395.5,371 V363 H406" fill="none" stroke="#262626" stroke-width="1.05" stroke-linecap="round" stroke-linejoin="round" />
<path d="M445,378 V457.5 H431 V589" fill="none" stroke="#262626" stroke-width="1.2" stroke-linecap="round" stroke-linejoin="round" />
<line x1="431" y1="589" x2="431" y2="616" stroke="#262626" stroke-width="1.2" stroke-linecap="round" />
<line x1="486" y1="97.5" x2="566.5" y2="97.5" stroke="#262626" stroke-width="1.05" stroke-linecap="round" />
<line x1="566.5" y1="97.5" x2="566.5" y2="152" stroke="#262626" stroke-width="0.9" stroke-linecap="round" />
<line x1="634" y1="97.5" x2="634" y2="152" stroke="#262626" stroke-width="0.9" stroke-linecap="round" />
<line x1="431" y1="192.5" x2="431" y2="374" stroke="#262626" stroke-width="1.05" stroke-linecap="round" />
<ellipse cx="458" cy="260" rx="24" ry="5" fill="#a88474" opacity="0.7" filter="url(#soft)"/>
<rect x="432" y="259.6" width="50" height="109.4" rx="3" fill="#cfa3bf" stroke="#262626" stroke-width="0.8"/>
<rect x="432.8" y="352.6" width="48.4" height="15.6" fill="#ecd6e6"/>
<line x1="432.5" y1="352.6" x2="481.5" y2="352.6" stroke="#262626" stroke-width="0.9" stroke-linecap="round" />
<rect x="432.8" y="262" width="6.2" height="90" fill="#c795b6" opacity="0.6"/>
<path d="M447.8,230 V301" fill="none" stroke="#262626" stroke-width="1.8" stroke-linecap="butt" stroke-linejoin="round" stroke-dasharray="3.2 2.2"/>
<path d="M447.8,230 H457" fill="none" stroke="#262626" stroke-width="1.8" stroke-linecap="butt" stroke-linejoin="round" stroke-dasharray="3.2 2.2"/>
<path d="M457.5,264 L467,299 L477.6,264" fill="none" stroke="#262626" stroke-width="1.8" stroke-linecap="butt" stroke-linejoin="round" stroke-dasharray="3.2 2.2"/>
<path d="M486.8,264 V294" fill="none" stroke="#262626" stroke-width="1.8" stroke-linecap="butt" stroke-linejoin="round" stroke-dasharray="3.2 2.2"/>
<path d="M-10.5,-10.5 Q0,-7.56 10.5,-10.5 Q7.56,0 10.5,10.5 Q0,7.56 -10.5,10.5 Q-7.56,0 -10.5,-10.5 Z" transform="translate(444 309) rotate(8)" fill="#fbf7f8" stroke="#262626" stroke-width="0.8" stroke-linejoin="round"/>
<path d="M-11.5,-11.5 Q0,-8.28 11.5,-11.5 Q8.28,0 11.5,11.5 Q0,8.28 -11.5,11.5 Q-8.28,0 -11.5,-11.5 Z" transform="translate(444.5 334) rotate(-3)" fill="#c58db4" stroke="#262626" stroke-width="0.8" stroke-linejoin="round"/>
<path d="M-9.5,-9.5 Q0,-6.84 9.5,-9.5 Q6.84,0 9.5,9.5 Q0,6.84 -9.5,9.5 Q-6.84,0 -9.5,-9.5 Z" transform="translate(444.5 355.5) rotate(4)" fill="#fbf7f8" stroke="#262626" stroke-width="0.8" stroke-linejoin="round"/>
<ellipse cx="501" cy="331" rx="15" ry="14" fill="#b58a78" opacity="0.5" filter="url(#soft)"/>
<circle cx="497.5" cy="334" r="13.7" fill="#b47e52" stroke="#262626" stroke-width="1.35" filter="url(#mot2)"/>
<path d="M455,309 Q458,299 470,298.5 L484,297 Q492,297 495,303 L497,311 Q497,318 490,320 L476,325 Q462,331 456,322 Z" fill="#fff" stroke="#262626" stroke-width="1.35" stroke-linecap="round" stroke-linejoin="round" />
<circle cx="465" cy="317" r="6.3" fill="#fff" stroke="#262626" stroke-width="1.35"/>
<path d="M459,316 Q463,310 470,314" fill="none" stroke="#262626" stroke-width="1.05" stroke-linecap="round" stroke-linejoin="round" />
<path d="M475,300 L480,297 L487,300 L489,311 L482,316 L476,312 Z" fill="#fff" stroke="#262626" stroke-width="1.2" stroke-linecap="round" stroke-linejoin="round" />
<path d="M492,303 L512,300.5 L513,303 L494,309 Z" fill="#fff" stroke="#262626" stroke-width="1.2" stroke-linecap="round" stroke-linejoin="round" />
<path d="M478,321 L488,317 L491,322 L481,326 Z" fill="#fff" stroke="#262626" stroke-width="1.05" stroke-linecap="round" stroke-linejoin="round" />
<path d="M699,206 C717,205.5 731,221 731,241 C731,262 717,276.5 699,276 C681,275.5 667.5,261 667.5,241 C667.5,221 681,206.5 699,206 Z" fill="#8486b4" stroke="#5c5e8c" stroke-width="0.7" stroke-dasharray="2 1.2" filter="url(#mot2)"/>
<rect x="716" y="260" width="54.5" height="110" fill="#86856a" filter="url(#mot2)"/>
<rect x="716" y="280.5" width="54.5" height="20" fill="#87758a"/>
<line x1="716" y1="284" x2="770.5" y2="284" stroke="#6a5570" stroke-width="0.7" stroke-linecap="round" />
<line x1="716" y1="288" x2="770.5" y2="288" stroke="#6a5570" stroke-width="0.7" stroke-linecap="round" />
<line x1="716" y1="292" x2="770.5" y2="292" stroke="#6a5570" stroke-width="0.7" stroke-linecap="round" />
<line x1="716" y1="296" x2="770.5" y2="296" stroke="#6a5570" stroke-width="0.7" stroke-linecap="round" />
<rect x="718" y="350" width="51" height="18" fill="#fff" stroke="#262626" stroke-width="1.05"/>
<rect x="716" y="260" width="54.5" height="110" fill="none" stroke="#262626" stroke-width="1.2"/>
<path d="M742,229 H750 V301 H710 V264" fill="none" stroke="#262626" stroke-width="1.8" stroke-linecap="butt" stroke-linejoin="round" stroke-dasharray="3.2 2.2"/>
<path d="M720,264 L731,300 L741,264" fill="none" stroke="#262626" stroke-width="1.8" stroke-linecap="butt" stroke-linejoin="round" stroke-dasharray="3.2 2.2"/>
<path d="M-12,-12 Q0,-8.64 12,-12 Q8.64,0 12,12 Q0,8.64 -12,12 Q-8.64,0 -12,-12 Z" transform="translate(753.5 299.5) rotate(22)" fill="#bdbbb8" stroke="#262626" stroke-width="0.8" stroke-linejoin="round"/>
<path d="M-12.5,-12.5 Q0,-9 12.5,-12.5 Q9,0 12.5,12.5 Q0,9 -12.5,12.5 Q-9,0 -12.5,-12.5 Z" transform="translate(752 318) rotate(-14)" fill="#8a7f6c" stroke="#262626" stroke-width="0.8" stroke-linejoin="round"/>
<path d="M-13,-13 Q0,-9.36 13,-13 Q9.36,0 13,13 Q0,9.36 -13,13 Q-9.36,0 -13,-13 Z" transform="translate(753 338.5) rotate(16)" fill="#7f7c9c" stroke="#262626" stroke-width="0.8" stroke-linejoin="round"/>
<ellipse cx="483" cy="395" rx="15" ry="14.5" fill="#b9917e" opacity="0.55" filter="url(#soft)"/>
<path d="M478,383.5 C487,383 493,390 492.7,398 C492.5,407 486,412.5 478,412.5 C470,412.5 463.3,406 463.3,398 C463.3,390 469,384 478,383.5 Z" fill="#f6e7ca" stroke="#262626" stroke-width="0.9"/>
<path d="M466,410 C480,416 494,428 504,435 C497,447 486,462 478,476 C466,466 452,454 441,449 C449,436 459,424 466,410 Z" fill="#b9917e" opacity="0.55" filter="url(#soft)"/>
<path d="M461.5,413.5 Q463.4,410.8 466,412.6 C477,421 489,430 499.5,436.5 Q502.5,438.7 500,441.5 C491,451 483,461 476,471.5 Q474,474.5 471.5,472 C463,462 452,453 441.5,447.5 Q438.3,445.8 440.5,443 C449,434 456,424 461.5,413.5 Z" fill="#cbbdd2" stroke="#262626" stroke-width="1.3" stroke-linejoin="round"/>
<path d="M455,429 Q453,438 448,447" fill="none" stroke="#8e8794" stroke-width="1.8" stroke-linecap="round" stroke-linejoin="round" opacity="0.75"/>
<path d="M461,422 Q458.5,437 453,452" fill="none" stroke="#8e8794" stroke-width="1.8" stroke-linecap="round" stroke-linejoin="round" opacity="0.75"/>
<path d="M468,424 Q465.5,441 460,458" fill="none" stroke="#8e8794" stroke-width="1.8" stroke-linecap="round" stroke-linejoin="round" opacity="0.75"/>
<path d="M475,429 Q472.5,446.5 467,464" fill="none" stroke="#8e8794" stroke-width="1.8" stroke-linecap="round" stroke-linejoin="round" opacity="0.75"/>
<path d="M482,433 Q479,450.5 473,468" fill="none" stroke="#8e8794" stroke-width="1.8" stroke-linecap="round" stroke-linejoin="round" opacity="0.75"/>
<path d="M489,437 Q486,448.5 480,460" fill="none" stroke="#8e8794" stroke-width="1.8" stroke-linecap="round" stroke-linejoin="round" opacity="0.75"/>
<path d="M495,440 Q492.5,446 487,452" fill="none" stroke="#8e8794" stroke-width="1.8" stroke-linecap="round" stroke-linejoin="round" opacity="0.75"/>
<rect x="434.5" y="476.5" width="122.5" height="53.5" fill="#f1e7c9" filter="url(#mot2)"/>
<rect x="434.5" y="476.5" width="122.5" height="53.5" fill="none" stroke="#b5aa8c" stroke-width="0.5"/>
<ellipse cx="520" cy="480" rx="34" ry="15" fill="#a59a72" opacity="0.6" filter="url(#soft)"/>
<circle cx="533" cy="484" r="15" fill="#967a66" stroke="#262626" stroke-width="1.35" filter="url(#mot2)"/>
<circle cx="501" cy="498.4" r="15.2" fill="#94796a" stroke="#262626" stroke-width="1.35" filter="url(#mot2)"/>
<circle cx="513" cy="486" r="15.8" fill="#987d69" stroke="#262626" stroke-width="1.35" filter="url(#mot2)"/>
<rect x="434" y="523" width="126" height="8" fill="#a89b6c" opacity="0.85" filter="url(#soft)"/>
<rect x="556" y="532" width="8" height="82" fill="#c4a49c" opacity="0.7" filter="url(#soft)"/>
<rect x="435" y="530" width="124" height="85" rx="3" fill="#7b6354"/>
<rect x="435" y="530" width="24" height="85" fill="#dcd9cf"/>
<rect x="459" y="530" width="40" height="85" fill="#7a6253" filter="url(#mot2)"/>
<rect x="499" y="530" width="37" height="85" fill="#5a4ba2" filter="url(#mot2)"/>
<rect x="536" y="530" width="23" height="85" fill="#7a6253" filter="url(#mot2)"/>
<rect x="435" y="530" width="124" height="85" rx="3" fill="none" stroke="#262626" stroke-width="0.9"/>
<line x1="459" y1="530" x2="459" y2="615" stroke="#262626" stroke-width="1.05" stroke-linecap="round" />
<line x1="499" y1="530" x2="499" y2="615" stroke="#262626" stroke-width="0.9" stroke-linecap="round" />
<line x1="536" y1="530" x2="536" y2="615" stroke="#262626" stroke-width="0.9" stroke-linecap="round" />
<path d="M-11.5,-11.5 Q0,-8.28 11.5,-11.5 Q8.28,0 11.5,11.5 Q0,8.28 -11.5,11.5 Q-8.28,0 -11.5,-11.5 Z" transform="translate(472 598) rotate(-14)" fill="#7a5a50" stroke="#262626" stroke-width="0.8" stroke-linejoin="round"/>
<path d="M-11.5,-11.5 Q0,-8.28 11.5,-11.5 Q8.28,0 11.5,11.5 Q0,8.28 -11.5,11.5 Q-8.28,0 -11.5,-11.5 Z" transform="translate(452 588) rotate(14)" fill="#4f5688" stroke="#262626" stroke-width="0.8" stroke-linejoin="round"/>
<path d="M-14,-14 Q0,-10.08 14,-14 Q10.08,0 14,14 Q0,10.08 -14,14 Q-10.08,0 -14,-14 Z" transform="translate(467 578) rotate(-32)" fill="#7c7d9e" stroke="#262626" stroke-width="0.8" stroke-linejoin="round"/>
<ellipse cx="533" cy="524.5" rx="2.6" ry="5" transform="rotate(20 533 524.5)" fill="#fff" stroke="#262626" stroke-width="0.8"/>
<ellipse cx="539.3" cy="521.8" rx="2.6" ry="5.2" transform="rotate(12 539.3 521.8)" fill="#fff" stroke="#262626" stroke-width="0.8"/>
<path d="M530.5,529 L517.5,561 Q509,574 512.5,584 Q516,594 524,597.5 Q532,597 537,590.5 Q546.5,581 543.5,566 L541.5,536 L541.5,528 Q536,526 530.5,529 Z" fill="#fff" stroke="#262626" stroke-width="1.35" stroke-linecap="round" stroke-linejoin="round" />
<path d="M536,529 L533,558 M533,558 Q526,562 521,571 M519,566 Q530,560 539,566 Q541,572 536,578 M524,574 Q531,570 538,574" fill="none" stroke="#262626" stroke-width="1.05" stroke-linecap="round" stroke-linejoin="round" />
<circle cx="523.6" cy="589.6" r="6.6" fill="#fff" stroke="#262626" stroke-width="1.35"/>
<path d="M519,585 Q523.5,581.5 528.5,585" fill="none" stroke="#262626" stroke-width="0.9" stroke-linecap="round" stroke-linejoin="round" />
<ellipse cx="592" cy="586" rx="17" ry="14" fill="#b9917e" opacity="0.5" filter="url(#soft)"/>
<path d="M592.5,592.1 Q601.9,599.5 611.2,589.4 Q599.3,582.4 592.5,592.1 Z" fill="#f4f7ee" stroke="#262626" stroke-width="0.7" stroke-linejoin="round"/>
<path d="M591.7,593.9 Q591.9,605.0 604.5,604.2 Q602.7,591.6 591.7,593.9 Z" fill="#f4f7ee" stroke="#262626" stroke-width="0.7" stroke-linejoin="round"/>
<path d="M591.0,594.6 Q586.3,605.0 598.2,610.3 Q601.9,597.8 591.0,594.6 Z" fill="#f4f7ee" stroke="#262626" stroke-width="0.7" stroke-linejoin="round"/>
<path d="M589.5,595.0 Q579.4,601.1 585.7,613.2 Q596.3,604.6 589.5,595.0 Z" fill="#f4f7ee" stroke="#262626" stroke-width="0.7" stroke-linejoin="round"/>
<path d="M588.9,594.3 Q578.1,595.5 580.8,607.5 Q592.7,604.5 588.9,594.3 Z" fill="#f4f7ee" stroke="#262626" stroke-width="0.7" stroke-linejoin="round"/>
<path d="M587.7,592.9 Q579.1,585.5 570.8,595.4 Q581.7,602.5 587.7,592.9 Z" fill="#f4f7ee" stroke="#262626" stroke-width="0.7" stroke-linejoin="round"/>
<path d="M588.1,591.7 Q585.2,581.2 573.9,585.9 Q578.7,597.1 588.1,591.7 Z" fill="#f4f7ee" stroke="#262626" stroke-width="0.7" stroke-linejoin="round"/>
<path d="M588.3,590.6 Q589.4,579.0 576.0,577.1 Q576.6,590.6 588.3,590.6 Z" fill="#f4f7ee" stroke="#262626" stroke-width="0.7" stroke-linejoin="round"/>
<path d="M589.3,590.0 Q595.6,579.8 584.6,571.3 Q578.9,584.0 589.3,590.0 Z" fill="#f4f7ee" stroke="#262626" stroke-width="0.7" stroke-linejoin="round"/>
<path d="M591.2,590.7 Q602.0,590.0 599.8,577.9 Q587.7,580.4 591.2,590.7 Z" fill="#f4f7ee" stroke="#262626" stroke-width="0.7" stroke-linejoin="round"/>
<path d="M591.7,590.8 Q603.2,591.8 604.5,578.7 Q591.3,579.4 591.7,590.8 Z" fill="#f4f7ee" stroke="#262626" stroke-width="0.7" stroke-linejoin="round"/>
<path d="M591.7,593.3 Q593.1,603.6 603.8,599.4 Q600.7,588.2 591.7,593.3 Z" fill="#6fae5e" stroke="#262626" stroke-width="0.7" stroke-linejoin="round"/>
<path d="M591.4,593.8 Q589.9,604.1 601.5,603.1 Q601.6,591.4 591.4,593.8 Z" fill="#6fae5e" stroke="#262626" stroke-width="0.7" stroke-linejoin="round"/>
<path d="M590.6,594.2 Q584.2,602.2 594.8,606.3 Q600.5,596.6 590.6,594.2 Z" fill="#6fae5e" stroke="#262626" stroke-width="0.7" stroke-linejoin="round"/>
<path d="M589.2,594.3 Q578.9,596.5 583.7,607.2 Q594.8,603.2 589.2,594.3 Z" fill="#6fae5e" stroke="#262626" stroke-width="0.7" stroke-linejoin="round"/>
<path d="M588.6,593.6 Q578.9,590.4 578.6,601.7 Q589.7,603.8 588.6,593.6 Z" fill="#6fae5e" stroke="#262626" stroke-width="0.7" stroke-linejoin="round"/>
<path d="M588.1,592.7 Q581.2,584.8 574.3,594.3 Q583.1,601.9 588.1,592.7 Z" fill="#6fae5e" stroke="#262626" stroke-width="0.7" stroke-linejoin="round"/>
<path d="M588.6,591.7 Q588.0,581.7 578.0,586.1 Q579.9,596.9 588.6,591.7 Z" fill="#6fae5e" stroke="#262626" stroke-width="0.7" stroke-linejoin="round"/>
<path d="M589.4,590.6 Q595.9,582.2 585.3,576.9 Q579.4,587.2 589.4,590.6 Z" fill="#6fae5e" stroke="#262626" stroke-width="0.7" stroke-linejoin="round"/>
<path d="M590.3,590.8 Q599.9,587.1 592.9,578.3 Q583.0,583.7 590.3,590.8 Z" fill="#6fae5e" stroke="#262626" stroke-width="0.7" stroke-linejoin="round"/>
<path d="M591.7,591.2 Q602.3,593.9 604.0,581.6 Q591.7,580.3 591.7,591.2 Z" fill="#6fae5e" stroke="#262626" stroke-width="0.7" stroke-linejoin="round"/>
<path d="M591.6,591.7 Q600.5,597.1 603.7,586.1 Q593.2,581.5 591.6,591.7 Z" fill="#6fae5e" stroke="#262626" stroke-width="0.7" stroke-linejoin="round"/>
<path d="M591.3,592.7 Q594.7,599.3 601.0,594.0 Q596.3,587.1 591.3,592.7 Z" fill="#3f7f3c" stroke="#262626" stroke-width="0.6" stroke-linejoin="round"/>
<path d="M590.3,593.7 Q585.3,598.9 592.6,602.1 Q597.2,595.7 590.3,593.7 Z" fill="#3f7f3c" stroke="#262626" stroke-width="0.6" stroke-linejoin="round"/>
<path d="M589.1,593.5 Q581.8,592.5 582.8,600.7 Q591.0,600.7 589.1,593.5 Z" fill="#3f7f3c" stroke="#262626" stroke-width="0.6" stroke-linejoin="round"/>
<path d="M588.7,592.6 Q584.0,587.0 579.5,593.7 Q585.5,599.2 588.7,592.6 Z" fill="#3f7f3c" stroke="#262626" stroke-width="0.6" stroke-linejoin="round"/>
<path d="M589.6,591.2 Q594.2,585.1 586.6,581.3 Q582.4,588.7 589.6,591.2 Z" fill="#3f7f3c" stroke="#262626" stroke-width="0.6" stroke-linejoin="round"/>
<path d="M590.6,591.4 Q598.0,591.0 595.3,583.3 Q587.4,584.8 590.6,591.4 Z" fill="#3f7f3c" stroke="#262626" stroke-width="0.6" stroke-linejoin="round"/>
<rect x="615" y="456.5" width="68" height="9" fill="#a88876" opacity="0.9" filter="url(#soft)"/>
<rect x="676" y="459" width="7.5" height="145" fill="#a88876" opacity="0.9" filter="url(#soft)"/>
<rect x="616.8" y="461.3" width="61.2" height="142.7" fill="#fff" stroke="#262626" stroke-width="1.35"/>
<rect x="646" y="468" width="27" height="48" rx="1.5" fill="#8ccfd0" stroke="#262626" stroke-width="1"/>
<path d="M651,508 L668,482 M655,513 L671,492" fill="none" stroke="#d8f1f0" stroke-width="2" stroke-linecap="round" stroke-linejoin="round" stroke-linecap="round"/>
<line x1="636" y1="552.5" x2="636" y2="597.5" stroke="#262626" stroke-width="1.35" stroke-linecap="round" />
<rect x="642.5" y="553" width="33" height="46" rx="2" fill="#6c6062" stroke="#262626" stroke-width="0.9"/>
<line x1="648.5" y1="554" x2="648.5" y2="598" stroke="#262626" stroke-width="1.05" stroke-linecap="round" />
<circle cx="665" cy="565" r="3.2" fill="none" stroke="#262626" stroke-width="1.2"/>
<line x1="668.057" y1="565.946" x2="669.968" y2="566.537" stroke="#262626" stroke-width="1.05" stroke-linecap="round" />
<line x1="665.71" y1="568.12" x2="666.153" y2="570.071" stroke="#262626" stroke-width="1.05" stroke-linecap="round" />
<line x1="662.652" y1="567.175" x2="661.185" y2="568.534" stroke="#262626" stroke-width="1.05" stroke-linecap="round" />
<line x1="661.943" y1="564.054" x2="660.032" y2="563.463" stroke="#262626" stroke-width="1.05" stroke-linecap="round" />
<line x1="664.29" y1="561.88" x2="663.847" y2="559.929" stroke="#262626" stroke-width="1.05" stroke-linecap="round" />
<line x1="667.348" y1="562.825" x2="668.815" y2="561.466" stroke="#262626" stroke-width="1.05" stroke-linecap="round" />
<circle cx="655" cy="575" r="3.2" fill="none" stroke="#262626" stroke-width="1.2"/>
<line x1="658.057" y1="575.946" x2="659.968" y2="576.537" stroke="#262626" stroke-width="1.05" stroke-linecap="round" />
<line x1="655.71" y1="578.12" x2="656.153" y2="580.071" stroke="#262626" stroke-width="1.05" stroke-linecap="round" />
<line x1="652.652" y1="577.175" x2="651.185" y2="578.534" stroke="#262626" stroke-width="1.05" stroke-linecap="round" />
<line x1="651.943" y1="574.054" x2="650.032" y2="573.463" stroke="#262626" stroke-width="1.05" stroke-linecap="round" />
<line x1="654.29" y1="571.88" x2="653.847" y2="569.929" stroke="#262626" stroke-width="1.05" stroke-linecap="round" />
<line x1="657.348" y1="572.825" x2="658.815" y2="571.466" stroke="#262626" stroke-width="1.05" stroke-linecap="round" />
<circle cx="665.5" cy="586" r="3.2" fill="none" stroke="#262626" stroke-width="1.2"/>
<line x1="668.557" y1="586.946" x2="670.468" y2="587.537" stroke="#262626" stroke-width="1.05" stroke-linecap="round" />
<line x1="666.21" y1="589.12" x2="666.653" y2="591.071" stroke="#262626" stroke-width="1.05" stroke-linecap="round" />
<line x1="663.152" y1="588.175" x2="661.685" y2="589.534" stroke="#262626" stroke-width="1.05" stroke-linecap="round" />
<line x1="662.443" y1="585.054" x2="660.532" y2="584.463" stroke="#262626" stroke-width="1.05" stroke-linecap="round" />
<line x1="664.79" y1="582.88" x2="664.347" y2="580.929" stroke="#262626" stroke-width="1.05" stroke-linecap="round" />
<line x1="667.848" y1="583.825" x2="669.315" y2="582.466" stroke="#262626" stroke-width="1.05" stroke-linecap="round" />
<ellipse cx="602" cy="481.5" rx="13" ry="9" fill="#a88876" opacity="0.8" filter="url(#soft)"/>
<path d="M617,474.5 H599 Q592,475.5 592,485.5 Q592,499.5 600,500.5 H617 Z" fill="#7d7577" stroke="#262626" stroke-width="0.9"/>
<path d="M617,478.5 H601 Q596.5,479.5 596.5,487.5 Q596.5,495.5 601,496.5 H617" fill="#8d8587" stroke="#262626" stroke-width="0.6"/>
<ellipse cx="602" cy="520" rx="13" ry="9" fill="#a88876" opacity="0.8" filter="url(#soft)"/>
<path d="M617,513 H599 Q592,514 592,524 Q592,538 600,539 H617 Z" fill="#7d7577" stroke="#262626" stroke-width="0.9"/>
<path d="M617,517 H601 Q596.5,518 596.5,526 Q596.5,534 601,535 H617" fill="#8d8587" stroke="#262626" stroke-width="0.6"/>
<rect x="747" y="383.5" width="23.4" height="117.2" fill="#fff" stroke="#262626" stroke-width="1.2"/>
<path d="M747,383.5 H730.95 A16.05,16.05 0 0 0 747,399.55 Z" fill="#fff" stroke="#262626" stroke-width="1.2" stroke-linecap="round" stroke-linejoin="round" />
<path d="M747,415.6 H730.95 A16.05,16.05 0 0 1 747,399.55 Z" fill="#fff" stroke="#262626" stroke-width="1.2" stroke-linecap="round" stroke-linejoin="round" />
<line x1="747" y1="415.6" x2="770.4" y2="415.6" stroke="#262626" stroke-width="1.05" stroke-linecap="round" />
<path d="M747,415.6 H725.7 A21.3,21.3 0 0 0 747,436.9 Z" fill="#fff" stroke="#262626" stroke-width="1.2" stroke-linecap="round" stroke-linejoin="round" />
<path d="M747,458.2 H725.7 A21.3,21.3 0 0 1 747,436.9 Z" fill="#fff" stroke="#262626" stroke-width="1.2" stroke-linecap="round" stroke-linejoin="round" />
<line x1="747" y1="458.2" x2="770.4" y2="458.2" stroke="#262626" stroke-width="1.05" stroke-linecap="round" />
<path d="M747,458.2 H725.75 A21.25,21.25 0 0 0 747,479.45 Z" fill="#fff" stroke="#262626" stroke-width="1.2" stroke-linecap="round" stroke-linejoin="round" />
<path d="M747,500.7 H725.75 A21.25,21.25 0 0 1 747,479.45 Z" fill="#fff" stroke="#262626" stroke-width="1.2" stroke-linecap="round" stroke-linejoin="round" />
<line x1="747" y1="500.7" x2="770.4" y2="500.7" stroke="#262626" stroke-width="1.05" stroke-linecap="round" />
<rect x="748" y="508" width="20.5" height="63.5" fill="#9a7965" stroke="#262626" stroke-width="1.2"/>
<rect x="750" y="507.8" width="17" height="18.2" fill="#fff" stroke="#262626" stroke-width="1.05"/>
<path d="M752,510 H765 V518 Q765,524 758.5,524 Q752,524 752,518 Z" fill="#e8e8ea" stroke="#262626" stroke-width="0.7"/>
<rect x="751" y="541.5" width="14" height="17.5" fill="#e6e7ea" stroke="#262626" stroke-width="1.05"/>
<line x1="752.5" y1="541.5" x2="752.5" y2="559" stroke="#262626" stroke-width="0.9" stroke-linecap="round" />
<ellipse cx="320" cy="407" rx="23" ry="20" fill="#7a5640" opacity="0.5" filter="url(#soft)"/><ellipse cx="341" cy="389" rx="12" ry="10" fill="#7a5640" opacity="0.5" filter="url(#soft)"/>
<path d="M339.5,392.3 Q343.4,398.1 350.6,394.3 Q345.2,388.2 339.5,392.3 Z" fill="#6fb062" stroke="#262626" stroke-width="0.7" stroke-linejoin="round"/>
<path d="M339.2,392.5 Q340.9,398.7 347.6,396.0 Q344.8,389.3 339.2,392.5 Z" fill="#6fb062" stroke="#262626" stroke-width="0.7" stroke-linejoin="round"/>
<path d="M338.4,393.4 Q334.9,399.3 341.5,403.7 Q344.6,396.4 338.4,393.4 Z" fill="#6fb062" stroke="#262626" stroke-width="0.7" stroke-linejoin="round"/>
<path d="M337.7,393.3 Q331.9,396.3 335.7,402.8 Q341.8,398.5 337.7,393.3 Z" fill="#6fb062" stroke="#262626" stroke-width="0.7" stroke-linejoin="round"/>
<path d="M337.0,393.0 Q330.3,392.9 329.9,400.6 Q337.6,399.8 337.0,393.0 Z" fill="#6fb062" stroke="#262626" stroke-width="0.7" stroke-linejoin="round"/>
<path d="M336.8,392.3 Q331.6,388.5 327.7,394.7 Q334.1,398.2 336.8,392.3 Z" fill="#6fb062" stroke="#262626" stroke-width="0.7" stroke-linejoin="round"/>
<path d="M336.7,391.7 Q333.8,385.7 327.1,389.1 Q331.3,395.4 336.7,391.7 Z" fill="#6fb062" stroke="#262626" stroke-width="0.7" stroke-linejoin="round"/>
<path d="M337.1,390.7 Q338.3,383.8 330.4,381.5 Q330.1,389.7 337.1,390.7 Z" fill="#6fb062" stroke="#262626" stroke-width="0.7" stroke-linejoin="round"/>
<path d="M338.1,390.6 Q343.3,386.3 338.4,380.3 Q333.2,386.0 338.1,390.6 Z" fill="#6fb062" stroke="#262626" stroke-width="0.7" stroke-linejoin="round"/>
<path d="M338.5,390.8 Q344.8,389.0 342.3,382.0 Q335.5,385.0 338.5,390.8 Z" fill="#6fb062" stroke="#262626" stroke-width="0.7" stroke-linejoin="round"/>
<path d="M338.9,391.2 Q345.2,392.1 345.5,384.9 Q338.3,384.8 338.9,391.2 Z" fill="#6fb062" stroke="#262626" stroke-width="0.7" stroke-linejoin="round"/>
<path d="M339.0,392.3 Q340.9,398.0 346.5,394.4 Q343.6,388.3 339.0,392.3 Z" fill="#5fa559" stroke="#262626" stroke-width="0.7" stroke-linejoin="round"/>
<path d="M338.9,392.9 Q338.0,399.3 345.2,399.6 Q345.3,392.3 338.9,392.9 Z" fill="#5fa559" stroke="#262626" stroke-width="0.7" stroke-linejoin="round"/>
<path d="M338.2,393.1 Q333.6,397.4 339.3,401.5 Q343.6,396.1 338.2,393.1 Z" fill="#5fa559" stroke="#262626" stroke-width="0.7" stroke-linejoin="round"/>
<path d="M337.7,392.9 Q332.0,394.2 335.5,399.6 Q341.5,397.4 337.7,392.9 Z" fill="#5fa559" stroke="#262626" stroke-width="0.7" stroke-linejoin="round"/>
<path d="M337.2,392.6 Q331.7,390.4 331.3,397.0 Q337.7,398.5 337.2,392.6 Z" fill="#5fa559" stroke="#262626" stroke-width="0.7" stroke-linejoin="round"/>
<path d="M336.7,392.0 Q332.6,386.9 327.2,392.0 Q332.6,397.0 336.7,392.0 Z" fill="#5fa559" stroke="#262626" stroke-width="0.7" stroke-linejoin="round"/>
<path d="M337.2,391.4 Q337.6,385.4 331.2,387.0 Q331.6,393.5 337.2,391.4 Z" fill="#5fa559" stroke="#262626" stroke-width="0.7" stroke-linejoin="round"/>
<path d="M337.7,390.8 Q341.5,385.7 335.3,382.2 Q331.8,388.4 337.7,390.8 Z" fill="#5fa559" stroke="#262626" stroke-width="0.7" stroke-linejoin="round"/>
<path d="M338.3,390.8 Q344.1,388.1 340.5,381.8 Q334.3,385.7 338.3,390.8 Z" fill="#5fa559" stroke="#262626" stroke-width="0.7" stroke-linejoin="round"/>
<path d="M338.9,391.2 Q345.2,392.2 345.4,385.0 Q338.3,384.8 338.9,391.2 Z" fill="#5fa559" stroke="#262626" stroke-width="0.7" stroke-linejoin="round"/>
<path d="M339.2,391.6 Q344.8,394.9 348.1,388.4 Q341.4,385.4 339.2,391.6 Z" fill="#5fa559" stroke="#262626" stroke-width="0.7" stroke-linejoin="round"/>
<path d="M338.6,392.2 Q339.5,396.2 343.0,393.4 Q341.5,389.2 338.6,392.2 Z" fill="#3f8540" stroke="#262626" stroke-width="0.6" stroke-linejoin="round"/>
<path d="M338.3,392.7 Q335.8,396.3 340.4,398.1 Q342.5,393.7 338.3,392.7 Z" fill="#3f8540" stroke="#262626" stroke-width="0.6" stroke-linejoin="round"/>
<path d="M337.7,392.6 Q333.4,392.9 335.1,397.3 Q339.7,396.4 337.7,392.6 Z" fill="#3f8540" stroke="#262626" stroke-width="0.6" stroke-linejoin="round"/>
<path d="M337.2,392.0 Q334.5,388.4 331.0,392.0 Q334.5,395.6 337.2,392.0 Z" fill="#3f8540" stroke="#262626" stroke-width="0.6" stroke-linejoin="round"/>
<path d="M337.6,391.3 Q339.4,387.3 334.6,386.1 Q333.2,390.9 337.6,391.3 Z" fill="#3f8540" stroke="#262626" stroke-width="0.6" stroke-linejoin="round"/>
<path d="M338.4,391.2 Q342.7,390.4 340.9,385.7 Q336.2,387.3 338.4,391.2 Z" fill="#3f8540" stroke="#262626" stroke-width="0.6" stroke-linejoin="round"/>
<path d="M319.7,412.8 Q327.3,419.8 335.4,411.1 Q325.7,404.3 319.7,412.8 Z" fill="#a9cc58" stroke="#262626" stroke-width="0.7" stroke-linejoin="round"/>
<path d="M319.4,414.1 Q321.6,424.3 333.4,422.1 Q329.3,410.8 319.4,414.1 Z" fill="#a9cc58" stroke="#262626" stroke-width="0.7" stroke-linejoin="round"/>
<path d="M318.2,414.8 Q313.2,423.3 323.4,427.9 Q327.7,417.6 318.2,414.8 Z" fill="#a9cc58" stroke="#262626" stroke-width="0.7" stroke-linejoin="round"/>
<path d="M317.6,415.3 Q310.2,423.0 318.5,432.3 Q325.8,422.2 317.6,415.3 Z" fill="#a9cc58" stroke="#262626" stroke-width="0.7" stroke-linejoin="round"/>
<path d="M316.3,414.6 Q306.3,415.3 307.8,426.6 Q319.0,424.3 316.3,414.6 Z" fill="#a9cc58" stroke="#262626" stroke-width="0.7" stroke-linejoin="round"/>
<path d="M315.4,413.2 Q308.0,406.0 299.8,414.5 Q309.3,421.5 315.4,413.2 Z" fill="#a9cc58" stroke="#262626" stroke-width="0.7" stroke-linejoin="round"/>
<path d="M315.6,412.1 Q312.6,402.3 301.3,405.8 Q306.2,416.5 315.6,412.1 Z" fill="#a9cc58" stroke="#262626" stroke-width="0.7" stroke-linejoin="round"/>
<path d="M316.3,411.4 Q318.6,401.8 307.5,400.1 Q306.3,411.3 316.3,411.4 Z" fill="#a9cc58" stroke="#262626" stroke-width="0.7" stroke-linejoin="round"/>
<path d="M317.3,410.7 Q324.4,402.6 315.8,393.7 Q308.9,404.0 317.3,410.7 Z" fill="#a9cc58" stroke="#262626" stroke-width="0.7" stroke-linejoin="round"/>
<path d="M318.5,410.9 Q328.5,407.7 325.5,395.9 Q314.5,401.2 318.5,410.9 Z" fill="#a9cc58" stroke="#262626" stroke-width="0.7" stroke-linejoin="round"/>
<path d="M319.2,412.1 Q328.3,416.0 331.5,405.3 Q320.8,402.3 319.2,412.1 Z" fill="#a9cc58" stroke="#262626" stroke-width="0.7" stroke-linejoin="round"/>
<path d="M319.1,413.7 Q321.4,423.0 331.2,418.6 Q327.3,408.6 319.1,413.7 Z" fill="#9cc24c" stroke="#262626" stroke-width="0.7" stroke-linejoin="round"/>
<path d="M318.6,414.0 Q316.5,422.9 326.3,421.7 Q327.4,411.8 318.6,414.0 Z" fill="#9cc24c" stroke="#262626" stroke-width="0.7" stroke-linejoin="round"/>
<path d="M317.5,414.7 Q309.7,420.1 317.5,427.3 Q325.2,420.2 317.5,414.7 Z" fill="#9cc24c" stroke="#262626" stroke-width="0.7" stroke-linejoin="round"/>
<path d="M316.5,414.7 Q306.8,416.2 309.6,427.0 Q320.3,423.8 316.5,414.7 Z" fill="#9cc24c" stroke="#262626" stroke-width="0.7" stroke-linejoin="round"/>
<path d="M315.8,413.9 Q306.7,409.9 303.1,420.6 Q313.9,423.7 315.8,413.9 Z" fill="#9cc24c" stroke="#262626" stroke-width="0.7" stroke-linejoin="round"/>
<path d="M315.6,413.1 Q309.3,405.6 301.7,413.7 Q310.0,421.1 315.6,413.1 Z" fill="#9cc24c" stroke="#262626" stroke-width="0.7" stroke-linejoin="round"/>
<path d="M315.8,412.0 Q314.6,402.1 303.5,404.5 Q306.5,415.4 315.8,412.0 Z" fill="#9cc24c" stroke="#262626" stroke-width="0.7" stroke-linejoin="round"/>
<path d="M317.1,411.5 Q323.2,404.8 314.0,400.8 Q308.3,409.0 317.1,411.5 Z" fill="#9cc24c" stroke="#262626" stroke-width="0.7" stroke-linejoin="round"/>
<path d="M317.5,411.4 Q325.3,406.4 317.5,399.8 Q309.7,406.4 317.5,411.4 Z" fill="#9cc24c" stroke="#262626" stroke-width="0.7" stroke-linejoin="round"/>
<path d="M318.8,411.9 Q327.9,414.7 328.6,404.2 Q318.2,402.5 318.8,411.9 Z" fill="#9cc24c" stroke="#262626" stroke-width="0.7" stroke-linejoin="round"/>
<path d="M319.1,412.6 Q325.9,419.0 330.7,409.8 Q322.3,403.9 319.1,412.6 Z" fill="#9cc24c" stroke="#262626" stroke-width="0.7" stroke-linejoin="round"/>
<path d="M318.6,413.0 Q321.9,418.6 326.3,413.0 Q321.9,407.5 318.6,413.0 Z" fill="#6fa23c" stroke="#262626" stroke-width="0.6" stroke-linejoin="round"/>
<path d="M318.2,413.9 Q315.7,420.1 323.0,420.8 Q324.8,413.7 318.2,413.9 Z" fill="#6fa23c" stroke="#262626" stroke-width="0.6" stroke-linejoin="round"/>
<path d="M316.8,414.1 Q309.9,414.5 311.7,422.0 Q319.2,420.5 316.8,414.1 Z" fill="#6fa23c" stroke="#262626" stroke-width="0.6" stroke-linejoin="round"/>
<path d="M316.2,412.9 Q312.7,406.9 306.7,411.8 Q311.5,417.9 316.2,412.9 Z" fill="#6fa23c" stroke="#262626" stroke-width="0.6" stroke-linejoin="round"/>
<path d="M317.1,411.7 Q321.1,406.0 314.1,402.5 Q310.5,409.4 317.1,411.7 Z" fill="#6fa23c" stroke="#262626" stroke-width="0.6" stroke-linejoin="round"/>
<path d="M318.1,412.2 Q324.3,413.0 322.2,406.5 Q315.3,406.5 318.1,412.2 Z" fill="#6fa23c" stroke="#262626" stroke-width="0.6" stroke-linejoin="round"/>
<path d="M385,434.5 Q392,433 401,436 V455 Q392,458.5 385,457 Q380.5,452 381,446 Q380.5,439 385,434.5 Z" fill="#8ecbd0" stroke="#262626" stroke-width="0.9"/>
<path d="M398,436 V455" fill="none" stroke="#262626" stroke-width="0.9" stroke-linecap="round" stroke-linejoin="round" />
<g filter="url(#mot)">
<polygon points="64,190 81,190 81,371 76,371 76,376 97.5,376 97.5,396 54,396 54,379 64,379" fill="#9d9e9f"/>
<rect x="76" y="371" width="179.5" height="5.5" fill="#9d9e9f"/>
<rect x="926" y="189" width="60" height="3.5" fill="#a9aaab"/>
<rect x="231" y="340" width="24.5" height="36" fill="#9d9e9f"/>
<rect x="189" y="190" width="6" height="12.5" fill="#9d9e9f"/>
<rect x="250" y="190" width="5.5" height="186" fill="#a9aaab"/>
</g>
<polygon points="81,206 189,206 189,202.5 195,202.5 195,191 249.5,191 249.5,340 231,340 231,371 81,371" fill="url(#flv)"/>
<polygon points="81,206 189,206 189,202.5 195,202.5 195,191 249.5,191 249.5,340 231,340 231,371 81,371" fill="none" stroke="#262626" stroke-width="1.2" stroke-linejoin="round"/>
<path d="M64,190 V379 H54 V392 M81,190 V371 M76,376 H97.5 V392" fill="none" stroke="#262626" stroke-width="1.2" stroke-linecap="round" stroke-linejoin="round" />
<path d="M189,190 V202.5 M195,190 V202.5 M189,190 H195" fill="none" stroke="#262626" stroke-width="1.2" stroke-linecap="round" stroke-linejoin="round" />
<path d="M250,190 V371 M255.5,190 V376" fill="none" stroke="#262626" stroke-width="1.05" stroke-linecap="round" stroke-linejoin="round" />
<line x1="64" y1="190" x2="81" y2="190" stroke="#262626" stroke-width="1.2" stroke-linecap="round" />
<rect x="81" y="199" width="108" height="6.5" fill="#fff" stroke="#262626" stroke-width="1.2"/>
<line x1="81" y1="201.5" x2="189" y2="201.5" stroke="#262626" stroke-width="0.9" stroke-linecap="round" />
<line x1="81" y1="203.5" x2="189" y2="203.5" stroke="#262626" stroke-width="0.9" stroke-linecap="round" />
<rect x="117.5" y="371.5" width="91.5" height="5.8" fill="#fff" stroke="#262626" stroke-width="1.2"/>
<line x1="81" y1="376.5" x2="255.5" y2="376.5" stroke="#262626" stroke-width="1.05" stroke-linecap="round" />
<rect x="100" y="226" width="39" height="74" fill="#fff" stroke="#262626" stroke-width="1.35"/>
<path d="M102,227 L118.5,299 L137,228" fill="none" stroke="#262626" stroke-width="1.05" stroke-linecap="round" stroke-linejoin="round" />
<line x1="142" y1="206" x2="142" y2="292.5" stroke="#262626" stroke-width="1.35" stroke-linecap="round" />
<line x1="143.6" y1="206" x2="143.6" y2="292.5" stroke="#262626" stroke-width="0.9" stroke-linecap="round" />
<path d="M199,282 C217,281 229,295 228.5,311 C228,328 216,340.5 199,340 C182,340 169,327 169.5,311 C170,294 182,283 199,282 Z" fill="#c8a845" stroke="#a88a30" stroke-width="0.6" stroke-dasharray="1.6 1" filter="url(#mot2)"/>
<path d="M181,258 L199,262 L195,291 L177,288 Z" fill="#8a6a5c" opacity="0.5" filter="url(#soft)"/>
<polygon points="179,261 196,263.5 192.5,290 176,287.5" fill="#8a6457" stroke="#262626" stroke-width="1.2" stroke-linejoin="round"/>
<circle cx="183" cy="277.5" r="2.5" fill="#fff" stroke="#262626" stroke-width="0.9"/>
<circle cx="187.5" cy="283.5" r="2.7" fill="#fff" stroke="#262626" stroke-width="0.9"/>
<ellipse cx="220" cy="291" rx="16" ry="15" fill="#6b5548" opacity="0.55" filter="url(#soft)"/>
<path d="M211,280 Q216,276 224,278 M228,283 Q231,289 229,296" fill="none" stroke="#3a3030" stroke-width="1.6" stroke-linecap="round" stroke-linejoin="round" />
<circle cx="214" cy="294" r="15" fill="#7e6b8e" stroke="#262626" stroke-width="1.35"/>
<polygon points="167.5,304.5 170.5,300.5 203.5,322.5 200.5,327.5" fill="#fff" stroke="#262626" stroke-width="1.2" stroke-linejoin="round"/>
<line x1="169" y1="302.5" x2="202" y2="325" stroke="#262626" stroke-width="0.75" stroke-linecap="round" />
<path d="M175,303 L178,305 M197,318 L200,320" fill="none" stroke="#3a3030" stroke-width="1.6" stroke-linecap="round" stroke-linejoin="round" />
<g filter="url(#mot)">
<rect x="1100" y="182" width="13" height="210" fill="#9d9e9f"/>
<rect x="926" y="372" width="174" height="6" fill="#9d9e9f"/>
<rect x="926" y="344" width="9" height="34" fill="#9d9e9f"/>
<rect x="986" y="182.5" width="8" height="22.5" fill="#9d9e9f"/>
<rect x="931" y="189" width="4" height="155" fill="#a9aaab"/>
</g>
<polygon points="935,192.5 986,192.5 986,205 1100,205 1100,372 935,372" fill="url(#flv)"/>
<rect x="926" y="192.5" width="5" height="151.5" fill="url(#flv)"/>
<polygon points="935,192.5 986,192.5 986,205 1100,205 1100,372 935,372" fill="none" stroke="#262626" stroke-width="1.2" stroke-linejoin="round"/>
<path d="M926,189 H986 M926,189 V378 M931,192 V344 M935,192 V344" fill="none" stroke="#262626" stroke-width="1.05" stroke-linecap="round" stroke-linejoin="round" />
<path d="M986,182.5 V205 M994,182.5 V199 M986,182.5 H994" fill="none" stroke="#262626" stroke-width="1.2" stroke-linecap="round" stroke-linejoin="round" />
<path d="M1100,182 V378 M1113,182 V392 M1100,182 H1113" fill="none" stroke="#262626" stroke-width="1.2" stroke-linecap="round" stroke-linejoin="round" />
<line x1="926" y1="378" x2="1100" y2="378" stroke="#262626" stroke-width="1.05" stroke-linecap="round" />
<line x1="1069" y1="378" x2="1069" y2="394" stroke="#262626" stroke-width="0.9" stroke-linecap="round" opacity="0.7"/>
<linearGradient id="fd" x1="0" y1="0" x2="0" y2="1"><stop offset="0" stop-color="#fff" stop-opacity="0"/><stop offset="1" stop-color="#fff" stop-opacity="1"/></linearGradient>
<rect x="1095" y="378" width="23" height="18" fill="url(#fd)"/>
<rect x="50" y="380" width="50" height="18" fill="url(#fd)"/>
<rect x="994" y="199" width="106" height="6.3" fill="#fff" stroke="#262626" stroke-width="1.2"/>
<line x1="994" y1="201.3" x2="1100" y2="201.3" stroke="#262626" stroke-width="0.9" stroke-linecap="round" />
<line x1="994" y1="203.3" x2="1100" y2="203.3" stroke="#262626" stroke-width="0.9" stroke-linecap="round" />
<rect x="970.5" y="372.5" width="92" height="5.8" fill="#fff" stroke="#262626" stroke-width="1.2"/>
<rect x="1040.5" y="225.5" width="39" height="72" fill="#fff" stroke="#262626" stroke-width="1.35"/>
<path d="M1042,227 L1059.5,297 L1078.5,229" fill="none" stroke="#262626" stroke-width="1.05" stroke-linecap="round" stroke-linejoin="round" />
<line x1="1034" y1="205.5" x2="1034" y2="293" stroke="#262626" stroke-width="1.35" stroke-linecap="round" />
<line x1="1036" y1="205.5" x2="1036" y2="293" stroke="#262626" stroke-width="0.9" stroke-linecap="round" />
<rect x="937" y="230.5" width="79" height="117" fill="#a5b38c" filter="url(#mot2)"/>
<rect x="937" y="230.5" width="79" height="117" fill="none" stroke="#869670" stroke-width="0.5"/>
<rect x="953" y="240" width="6" height="100" fill="#7f8f70" opacity="0.6" filter="url(#soft)"/>
<rect x="936" y="241" width="18.5" height="98" fill="#6f5346" stroke="#262626" stroke-width="1.2"/>
<rect x="938.5" y="246" width="2" height="41" fill="#e9e9e9" stroke="#262626" stroke-width="0.6"/>
<circle cx="942.5" cy="294.5" r="3" fill="#fff" stroke="#262626" stroke-width="0.75"/>
<circle cx="949" cy="291" r="2" fill="#fff" stroke="#262626" stroke-width="0.75"/>
<path d="M939,304 L945,317 M941,319 L947,332" fill="none" stroke="#2a2a2a" stroke-width="1.6" stroke-linecap="round" stroke-linejoin="round" />
<ellipse cx="984" cy="256" rx="16" ry="15" fill="#7f8f70" opacity="0.6" filter="url(#soft)"/>
<circle cx="980" cy="257.5" r="15" fill="#c99d6d" stroke="#262626" stroke-width="1.35"/>
<rect x="977" y="247.5" width="8" height="6.5" fill="#eee" stroke="#262626" stroke-width="1.2"/>
<path d="M977,252 Q972,254 974,259 Q981,262 978,268 Q972,274 971,270 Q971,266 978,266 Q985,262 987,254" fill="none" stroke="#262626" stroke-width="1.35" stroke-linecap="round" stroke-linejoin="round" />
<path d="M986,291 L1011,280 L1024,310 L999,322 Z" fill="#6f7f64" opacity="0.6" filter="url(#soft)"/>
<path d="M984.5,295 Q984,291.5 987.5,290 L1009.5,280 Q1013,279 1014,282 L1024.5,310 Q1025,313 1022,314.5 L1004,324 Q1001,325 999.5,322 Z" fill="#5c6d7c" stroke="#262626" stroke-width="1"/>
<path d="M988,296 L1001,320 L1022,310" fill="none" stroke="#2a3238" stroke-width="0.8" stroke-linecap="round" stroke-linejoin="round" />
<path d="M586,58 V127.5 H509.5 V186" fill="none" stroke="#e60012" stroke-width="2.6" stroke-linecap="round" stroke-linejoin="round" stroke-linejoin="miter"/>
<path d="M501,164 L509.5,187.5 L519,164" fill="none" stroke="#e60012" stroke-width="2.6" stroke-linecap="round" stroke-linejoin="round" stroke-linejoin="miter" stroke-miterlimit="10"/>
<path d="M609.5,58 V127.5 H690 V186" fill="none" stroke="#0a82d2" stroke-width="2.6" stroke-linecap="round" stroke-linejoin="round" stroke-linejoin="miter"/>
<path d="M681,164 L690,187.5 L699,164" fill="none" stroke="#0a82d2" stroke-width="2.6" stroke-linecap="round" stroke-linejoin="round" stroke-linejoin="miter" stroke-miterlimit="10"/>
<circle cx="252.5" cy="376" r="1.25" fill="#e60012"/>
<circle cx="260.9" cy="376" r="1.25" fill="#e60012"/>
<circle cx="269.3" cy="376" r="1.25" fill="#e60012"/>
<circle cx="277.7" cy="376" r="1.25" fill="#e60012"/>
<circle cx="286.1" cy="376" r="1.25" fill="#e60012"/>
<circle cx="294.5" cy="376" r="1.25" fill="#e60012"/>
<circle cx="785.5" cy="376" r="1.25" fill="#0f96e0"/>
<circle cx="793.8" cy="376" r="1.25" fill="#0f96e0"/>
<circle cx="802.1" cy="376" r="1.25" fill="#0f96e0"/>
<circle cx="810.4" cy="376" r="1.25" fill="#0f96e0"/>
<circle cx="818.7" cy="376" r="1.25" fill="#0f96e0"/>
<circle cx="827" cy="376" r="1.25" fill="#0f96e0"/>
<circle cx="835.3" cy="376" r="1.25" fill="#0f96e0"/>
<circle cx="843.6" cy="376" r="1.25" fill="#0f96e0"/>
<circle cx="851.9" cy="376" r="1.25" fill="#0f96e0"/>
<circle cx="860.2" cy="376" r="1.25" fill="#0f96e0"/>
<circle cx="868.5" cy="376" r="1.25" fill="#0f96e0"/>
<circle cx="876.8" cy="376" r="1.25" fill="#0f96e0"/>
<circle cx="885.1" cy="376" r="1.25" fill="#0f96e0"/>
<circle cx="893.4" cy="376" r="1.25" fill="#0f96e0"/>
<circle cx="901.7" cy="376" r="1.25" fill="#0f96e0"/>
<circle cx="910" cy="376" r="1.25" fill="#0f96e0"/>
<circle cx="918.3" cy="376" r="1.25" fill="#0f96e0"/>
<circle cx="926.6" cy="376" r="1.25" fill="#0f96e0"/>
<rect x="425" y="117" width="19.5" height="19.5" fill="#e60012"/>
<text x="434.75" y="132.6" font-size="15.99" text-anchor="middle" fill="#fff" font-family="Liberation Sans, sans-serif">3</text>
<rect x="559.3" y="152" width="19.5" height="19.5" fill="#e60012"/>
<text x="569.05" y="167.6" font-size="15.99" text-anchor="middle" fill="#fff" font-family="Liberation Sans, sans-serif">3</text>
<rect x="444" y="202" width="19.5" height="19.5" fill="#e60012"/>
<text x="453.75" y="217.6" font-size="15.99" text-anchor="middle" fill="#fff" font-family="Liberation Sans, sans-serif">3</text>
<rect x="492" y="279" width="19.5" height="19.5" fill="#e60012"/>
<text x="501.75" y="294.6" font-size="15.99" text-anchor="middle" fill="#fff" font-family="Liberation Sans, sans-serif">1</text>
<rect x="755.5" y="117" width="19.5" height="19.5" fill="#0a82d2"/>
<text x="765.25" y="132.6" font-size="15.99" text-anchor="middle" fill="#fff" font-family="Liberation Sans, sans-serif">3</text>
<rect x="617.7" y="152" width="19.5" height="19.5" fill="#0a82d2"/>
<text x="627.45" y="167.6" font-size="15.99" text-anchor="middle" fill="#fff" font-family="Liberation Sans, sans-serif">3</text>
<rect x="737" y="202" width="19.5" height="19.5" fill="#0a82d2"/>
<text x="746.75" y="217.6" font-size="15.99" text-anchor="middle" fill="#fff" font-family="Liberation Sans, sans-serif">3</text>
<rect x="689.5" y="279" width="19.5" height="19.5" fill="#0a82d2"/>
<text x="699.25" y="294.6" font-size="15.99" text-anchor="middle" fill="#fff" font-family="Liberation Sans, sans-serif">1</text>
<rect x="742" y="432" width="20" height="20" fill="#0a82d2"/>
<text x="752" y="448" font-size="16.4" text-anchor="middle" fill="#fff" font-family="Liberation Sans, sans-serif">4</text>
<rect x="742" y="475" width="20" height="20" fill="#e60012"/>
<text x="752" y="491" font-size="16.4" text-anchor="middle" fill="#fff" font-family="Liberation Sans, sans-serif">4</text>
<rect x="340.5" y="486" width="19.8" height="19.8" fill="#ffd800"/>
<text x="350.4" y="501.84" font-size="16.236" text-anchor="middle" fill="#111" font-family="Liberation Sans, sans-serif">7</text>
<rect x="486" y="553" width="20" height="20" fill="#ffd800"/>
<text x="496" y="569" font-size="16.4" text-anchor="middle" fill="#111" font-family="Liberation Sans, sans-serif">5</text>
<rect x="642" y="532" width="19.8" height="19.8" fill="#ffd800"/>
<text x="651.9" y="547.84" font-size="16.236" text-anchor="middle" fill="#111" font-family="Liberation Sans, sans-serif">6</text>
<rect x="160" y="233" width="21" height="21" fill="#e60012"/>
<text x="170.5" y="249.8" font-size="17.22" text-anchor="middle" fill="#fff" font-family="Liberation Sans, sans-serif">2</text>
<rect x="1001" y="219.5" width="21.3" height="21.3" fill="#0a82d2"/>
<text x="1011.65" y="236.54" font-size="17.466" text-anchor="middle" fill="#fff" font-family="Liberation Sans, sans-serif">2</text>
<rect x="530.5" y="105.5" width="15.3" height="15.3" fill="#fff" stroke="#e60012" stroke-width="1"/>
<rect x="533.853" y="111.283" width="8.83164" height="6.99418" rx="1.06691" fill="#e60012"/>
<path d="M535.601,111.783 V110.572 A2.66727,2.66727 0 0 1 540.936,110.572 V111.783" fill="none" stroke="#e60012" stroke-width="1.42255"/>
<rect x="537.735" y="113.535" width="1.06691" height="2.25236" fill="#fff"/>
<rect x="530.5" y="237.5" width="15.3" height="15.3" fill="#fff" stroke="#e60012" stroke-width="1"/>
<rect x="533.853" y="243.283" width="8.83164" height="6.99418" rx="1.06691" fill="#e60012"/>
<path d="M535.601,243.783 V242.572 A2.66727,2.66727 0 0 1 540.936,242.572 V243.783" fill="none" stroke="#e60012" stroke-width="1.42255"/>
<rect x="537.735" y="245.535" width="1.06691" height="2.25236" fill="#fff"/>
<rect x="518" y="372.5" width="15.6" height="15.6" fill="#fff" stroke="#e60012" stroke-width="1"/>
<rect x="521.424" y="378.399" width="8.99418" height="7.12291" rx="1.08655" fill="#e60012"/>
<path d="M523.204,378.899 V377.674 A2.71636,2.71636 0 0 1 528.637,377.674 V378.899" fill="none" stroke="#e60012" stroke-width="1.44873"/>
<rect x="525.377" y="380.692" width="1.08655" height="2.29382" fill="#fff"/>
<rect x="652" y="105" width="15.6" height="15.6" fill="#fff" stroke="#12a0e8" stroke-width="1"/>
<rect x="655.424" y="110.899" width="8.99418" height="7.12291" rx="1.08655" fill="#12a0e8"/>
<path d="M657.204,111.399 V110.174 A2.71636,2.71636 0 0 1 662.637,110.174 V111.399" fill="none" stroke="#12a0e8" stroke-width="1.44873"/>
<rect x="659.377" y="113.192" width="1.08655" height="2.29382" fill="#fff"/>
<rect x="652" y="237.5" width="15.6" height="15.6" fill="#fff" stroke="#12a0e8" stroke-width="1"/>
<rect x="655.424" y="243.399" width="8.99418" height="7.12291" rx="1.08655" fill="#12a0e8"/>
<path d="M657.204,243.899 V242.674 A2.71636,2.71636 0 0 1 662.637,242.674 V243.899" fill="none" stroke="#12a0e8" stroke-width="1.44873"/>
<rect x="659.377" y="245.692" width="1.08655" height="2.29382" fill="#fff"/>
<rect x="664" y="372.5" width="15.6" height="15.6" fill="#fff" stroke="#12a0e8" stroke-width="1"/>
<rect x="667.424" y="378.399" width="8.99418" height="7.12291" rx="1.08655" fill="#12a0e8"/>
<path d="M669.204,378.899 V377.674 A2.71636,2.71636 0 0 1 674.637,377.674 V378.899" fill="none" stroke="#12a0e8" stroke-width="1.44873"/>
<rect x="671.377" y="380.692" width="1.08655" height="2.29382" fill="#fff"/>
<rect x="851.325" y="79.825" width="25.85" height="25.85" fill="#fff" stroke="#e60012" stroke-width="1.65"/>
<rect x="857" y="89.6" width="14.9" height="11.8" rx="1.8" fill="#e60012"/>
<path d="M859.95,90.1 V88.4 A4.5,4.5 0 0 1 868.95,88.4 V90.1" fill="none" stroke="#e60012" stroke-width="2.4"/>
<rect x="863.55" y="93.4" width="1.8" height="3.8" fill="#fff"/>
<rect x="885.325" y="79.825" width="25.85" height="25.85" fill="#fff" stroke="#12a0e8" stroke-width="1.65"/>
<rect x="891" y="89.6" width="14.9" height="11.8" rx="1.8" fill="#12a0e8"/>
<path d="M893.95,90.1 V88.4 A4.5,4.5 0 0 1 902.95,88.4 V90.1" fill="none" stroke="#12a0e8" stroke-width="2.4"/>
<rect x="897.55" y="93.4" width="1.8" height="3.8" fill="#fff"/>
<text y="241.4" text-anchor="middle" fill="#1a1a1a" stroke="#1a1a1a" stroke-width="0.32" filter="url(#halo)"><tspan x="468.45 483.55 498.65 513.75" font-size="14.20" font-weight="700">妻の個室</tspan></text>
<text y="259.8" text-anchor="middle" fill="#1a1a1a" stroke="#1a1a1a" stroke-width="0.32" filter="url(#halo)"><tspan x="461.10" font-size="15.90" font-weight="400">(</tspan><tspan x="472.25" font-size="14.20" font-weight="700">約</tspan><tspan x="484.75 491.27 497.81" font-size="15.00" font-weight="700">5.2</tspan><tspan x="509.90" font-size="14.20" font-weight="700">帖</tspan><tspan x="521.35" font-size="15.90" font-weight="400">)</tspan></text>
<text y="241.4" text-anchor="middle" fill="#1a1a1a" stroke="#1a1a1a" stroke-width="0.32" filter="url(#halo)"><tspan x="685.95 701.05 716.15 731.25" font-size="14.20" font-weight="700">夫の個室</tspan></text>
<text y="259.8" text-anchor="middle" fill="#1a1a1a" stroke="#1a1a1a" stroke-width="0.32" filter="url(#halo)"><tspan x="679.20" font-size="15.90" font-weight="400">(</tspan><tspan x="690.35" font-size="14.20" font-weight="700">約</tspan><tspan x="702.85 709.38 715.91" font-size="15.00" font-weight="700">5.0</tspan><tspan x="728.00" font-size="14.20" font-weight="700">帖</tspan><tspan x="739.45" font-size="15.90" font-weight="400">)</tspan></text>
<text y="426.2" text-anchor="middle" fill="#1a1a1a" stroke="#1a1a1a" stroke-width="0.32" filter="url(#halo)"><tspan x="545.38 558.92 572.47 586.02 597.27 608.52 622.07 635.62 649.17 662.72" font-size="15.48" font-weight="700">リビング・ダイニング</tspan></text>
<text y="444.2" text-anchor="middle" fill="#1a1a1a" stroke="#1a1a1a" stroke-width="0.32" filter="url(#halo)"><tspan x="543.65 557.55 571.45 585.35" font-size="15.48" font-weight="700">キッチン</tspan><tspan x="597.00" font-size="15.90" font-weight="400">(</tspan><tspan x="609.75" font-size="14.20" font-weight="700">約</tspan><tspan x="622.04 630.74 637.26 643.80" font-size="15.00" font-weight="700">14.0</tspan><tspan x="655.69" font-size="14.20" font-weight="700">帖</tspan><tspan x="666.94" font-size="15.90" font-weight="400">)</tspan></text>
<text y="359.5" text-anchor="middle" fill="#1a1a1a" stroke="#1a1a1a" stroke-width="0.32" filter="url(#halo)"><tspan x="94.70 108.90" font-size="14.00" font-weight="700">妻の</tspan><tspan x="123.10 137.30 151.50" font-size="15.26" font-weight="700">ロフト</tspan><tspan x="163.50" font-size="15.68" font-weight="400">(</tspan><tspan x="173.70" font-size="14.00" font-weight="700">約</tspan><tspan x="186.14 192.67 199.20" font-size="15.00" font-weight="700">5.1</tspan><tspan x="211.25" font-size="14.00" font-weight="700">帖</tspan><tspan x="222.65" font-size="15.68" font-weight="400">)</tspan></text>
<text y="363.5" text-anchor="middle" fill="#1a1a1a" stroke="#1a1a1a" stroke-width="0.32" filter="url(#halo)"><tspan x="956.90 971.10" font-size="14.00" font-weight="700">夫の</tspan><tspan x="985.30 999.50 1013.70" font-size="15.26" font-weight="700">ロフト</tspan><tspan x="1025.70" font-size="15.68" font-weight="400">(</tspan><tspan x="1035.90" font-size="14.00" font-weight="700">約</tspan><tspan x="1048.35 1054.88 1061.41" font-size="15.00" font-weight="700">5.0</tspan><tspan x="1073.45" font-size="14.00" font-weight="700">帖</tspan><tspan x="1084.85" font-size="15.68" font-weight="400">)</tspan></text>
<text x="922.5" y="90.8" font-size="12.9" fill="#1c1c1c" font-weight="500" textLength="206" lengthAdjust="spacing">専用個室にある3ヶ所の引戸はすべ</text>
<text x="922.5" y="111.4" font-size="12.9" fill="#1c1c1c" font-weight="500" textLength="198" lengthAdjust="spacing">て鍵が付いており、プライバシーが</text>
<text x="922.5" y="132" font-size="12.9" fill="#1c1c1c" font-weight="500" textLength="102" lengthAdjust="spacing">守られています。</text>
<g transform="translate(820.7 702.6) rotate(147)">
<line x1="0" y1="21" x2="0" y2="-34" stroke="#111" stroke-width="0.6" stroke-linecap="round" />
<line x1="-22" y1="0" x2="21.5" y2="0" stroke="#111" stroke-width="0.6" stroke-linecap="round" />
<path d="M-2.2,-6.2 L0,-15 L2.2,-6.2 Z" transform="rotate(0)" fill="#fff" stroke="#111" stroke-width="0.45"/>
<path d="M-2.2,-6.2 L0,-15 L2.2,-6.2 Z" transform="rotate(90)" fill="#fff" stroke="#111" stroke-width="0.45"/>
<path d="M-2.2,-6.2 L0,-15 L2.2,-6.2 Z" transform="rotate(180)" fill="#fff" stroke="#111" stroke-width="0.45"/>
<path d="M-2.2,-6.2 L0,-15 L2.2,-6.2 Z" transform="rotate(270)" fill="#fff" stroke="#111" stroke-width="0.45"/>
<path d="M-2.9,-6 L0,-15.4 L2.9,-6 Z" transform="rotate(45)" fill="#111" stroke="#111" stroke-width="0.4"/>
<path d="M-2.9,-6 L0,-15.4 L2.9,-6 Z" transform="rotate(135)" fill="#111" stroke="#111" stroke-width="0.4"/>
<path d="M-2.9,-6 L0,-15.4 L2.9,-6 Z" transform="rotate(225)" fill="#111" stroke="#111" stroke-width="0.4"/>
<path d="M-2.9,-6 L0,-15.4 L2.9,-6 Z" transform="rotate(315)" fill="#111" stroke="#111" stroke-width="0.4"/>
<circle cx="0" cy="0" r="6.7" fill="#fff" stroke="#111" stroke-width="0.7"/>
<line x1="0" y1="6.7" x2="0" y2="-6.7" stroke="#111" stroke-width="0.6" stroke-linecap="round" />
<line x1="-6.7" y1="0" x2="6.7" y2="0" stroke="#111" stroke-width="0.6" stroke-linecap="round" />
<path d="M-1.2,-21 L0,-30 L1.2,-21 Z" fill="#fff" stroke="#111" stroke-width="0.5"/>
</g>
<text x="839.3" y="735.6" font-size="7" font-weight="700" fill="#111" text-anchor="middle" transform="rotate(-33 839.3 733)" font-family="Liberation Sans, sans-serif">N</text>
</svg>
</body>
</html>
